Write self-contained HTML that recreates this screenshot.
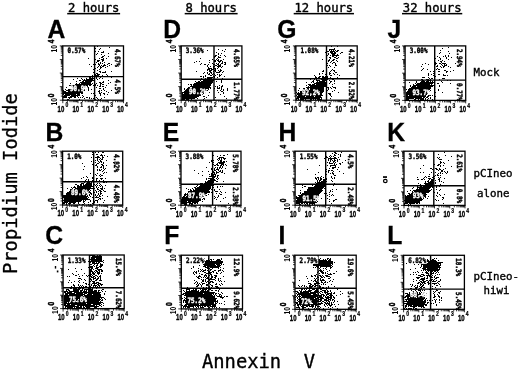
<!DOCTYPE html>
<html><head><meta charset="utf-8"><style>html,body{margin:0;padding:0;background:#fff;width:520px;height:371px;overflow:hidden;position:relative}</style></head>
<body>
<svg width="520" height="371" viewBox="0 0 520 371" style="position:absolute;left:0;top:0">
<rect width="520" height="371" fill="#fff"/>
<text x="68" y="11.5" font-family='"DejaVu Sans Mono", "Liberation Mono", monospace' font-size="12.2" fill="#000" stroke="#000" stroke-width="0.4">2 hours</text>
<rect x="67.2" y="12.9" width="52.910799999999995" height="1.5" fill="#000"/>
<text x="185.5" y="11.5" font-family='"DejaVu Sans Mono", "Liberation Mono", monospace' font-size="12.2" fill="#000" stroke="#000" stroke-width="0.4">8 hours</text>
<rect x="184.7" y="12.9" width="52.910799999999995" height="1.5" fill="#000"/>
<text x="294.5" y="11.5" font-family='"DejaVu Sans Mono", "Liberation Mono", monospace' font-size="12.2" fill="#000" stroke="#000" stroke-width="0.4">12 hours</text>
<rect x="293.7" y="12.9" width="60.255199999999995" height="1.5" fill="#000"/>
<text x="402.8" y="11.5" font-family='"DejaVu Sans Mono", "Liberation Mono", monospace' font-size="12.2" fill="#000" stroke="#000" stroke-width="0.4">32 hours</text>
<rect x="402.0" y="12.9" width="60.255199999999995" height="1.5" fill="#000"/>
<text transform="translate(47.38,37.8) scale(0.95,1)" font-family='"Liberation Sans", Arial, sans-serif' font-weight="bold" font-size="26.0" fill="#000" stroke="#000" stroke-width="0.3">A</text>
<text transform="translate(163.15,37.8) scale(0.95,1)" font-family='"Liberation Sans", Arial, sans-serif' font-weight="bold" font-size="26.0" fill="#000" stroke="#000" stroke-width="0.3">D</text>
<text transform="translate(277.29,37.8) scale(0.95,1)" font-family='"Liberation Sans", Arial, sans-serif' font-weight="bold" font-size="26.0" fill="#000" stroke="#000" stroke-width="0.3">G</text>
<text transform="translate(387.43,37.9) scale(0.95,1)" font-family='"Liberation Sans", Arial, sans-serif' font-weight="bold" font-size="26.0" fill="#000" stroke="#000" stroke-width="0.3">J</text>
<text transform="translate(45.55,141) scale(0.95,1)" font-family='"Liberation Sans", Arial, sans-serif' font-weight="bold" font-size="26.0" fill="#000" stroke="#000" stroke-width="0.3">B</text>
<text transform="translate(162.85,140.9) scale(0.95,1)" font-family='"Liberation Sans", Arial, sans-serif' font-weight="bold" font-size="26.0" fill="#000" stroke="#000" stroke-width="0.3">E</text>
<text transform="translate(278.55,140.9) scale(0.95,1)" font-family='"Liberation Sans", Arial, sans-serif' font-weight="bold" font-size="26.0" fill="#000" stroke="#000" stroke-width="0.3">H</text>
<text transform="translate(387.35,141) scale(0.95,1)" font-family='"Liberation Sans", Arial, sans-serif' font-weight="bold" font-size="26.0" fill="#000" stroke="#000" stroke-width="0.3">K</text>
<text transform="translate(45.19,243.9) scale(0.95,1)" font-family='"Liberation Sans", Arial, sans-serif' font-weight="bold" font-size="26.0" fill="#000" stroke="#000" stroke-width="0.3">C</text>
<text transform="translate(164.35,244.2) scale(0.95,1)" font-family='"Liberation Sans", Arial, sans-serif' font-weight="bold" font-size="26.0" fill="#000" stroke="#000" stroke-width="0.3">F</text>
<text transform="translate(278.55,244.2) scale(0.95,1)" font-family='"Liberation Sans", Arial, sans-serif' font-weight="bold" font-size="26.0" fill="#000" stroke="#000" stroke-width="0.3">I</text>
<text transform="translate(387.35,244) scale(0.95,1)" font-family='"Liberation Sans", Arial, sans-serif' font-weight="bold" font-size="26.0" fill="#000" stroke="#000" stroke-width="0.3">L</text>
<text x="473.5" y="75.5" font-family='"DejaVu Sans Mono", "Liberation Mono", monospace' font-size="10.8" fill="#000" stroke="#000" stroke-width="0.35">Mock</text>
<text x="473.5" y="176.8" font-family='"DejaVu Sans Mono", "Liberation Mono", monospace' font-size="10.8" fill="#000" stroke="#000" stroke-width="0.35">pCIneo</text>
<text x="477" y="196.9" font-family='"DejaVu Sans Mono", "Liberation Mono", monospace' font-size="10.8" fill="#000" stroke="#000" stroke-width="0.35">alone</text>
<text x="473.5" y="280" font-family='"DejaVu Sans Mono", "Liberation Mono", monospace' font-size="10.8" fill="#000" stroke="#000" stroke-width="0.35">pCIneo-</text>
<text x="483.5" y="293.5" font-family='"DejaVu Sans Mono", "Liberation Mono", monospace' font-size="10.8" fill="#000" stroke="#000" stroke-width="0.35">hiwi</text>
<text transform="translate(16.8,274) rotate(-90)" font-family='"DejaVu Sans Mono", "Liberation Mono", monospace' font-size="18.8" fill="#000" stroke="#000" stroke-width="0.3">Propidium Iodide</text>
<text x="202" y="368" font-family='"DejaVu Sans Mono", "Liberation Mono", monospace' font-size="18.8" fill="#000" stroke="#000" stroke-width="0.35" xml:space="preserve" style="white-space:pre">Annexin  V</text>
<path d="M97 46h1v1h-1zM109 47h1v1h-1zM95 48h1v1h-1zM100 48h1v1h-1zM99 49h1v1h-1zM95 51h1v1h-1zM98 51h1v1h-1zM103 51h1v1h-1zM101 52h3v1h-3zM97 53h1v1h-1zM108 53h1v1h-1zM96 54h1v1h-1zM101 54h1v1h-1zM104 55h1v1h-1zM102 56h2v1h-2zM108 56h1v1h-1zM94 57h1v1h-1zM101 57h2v1h-2zM88 58h1v1h-1zM99 58h1v1h-1zM103 58h1v1h-1zM106 58h1v1h-1zM94 59h2v1h-2zM101 59h3v1h-3zM97 60h3v1h-3zM102 60h2v1h-2zM97 61h2v1h-2zM102 61h1v1h-1zM94 62h1v1h-1zM96 62h1v1h-1zM100 62h1v1h-1zM104 62h1v1h-1zM98 63h1v1h-1zM100 63h1v1h-1zM102 63h1v1h-1zM108 63h2v1h-2zM89 64h1v1h-1zM93 64h1v1h-1zM95 64h1v1h-1zM98 64h2v1h-2zM104 64h1v1h-1zM107 64h1v1h-1zM111 64h1v1h-1zM99 65h1v1h-1zM101 65h1v1h-1zM103 65h3v1h-3zM109 65h1v1h-1zM91 66h1v1h-1zM98 66h1v1h-1zM100 66h1v1h-1zM102 66h2v1h-2zM107 66h1v1h-1zM97 67h1v1h-1zM100 67h2v1h-2zM105 67h1v1h-1zM95 68h1v1h-1zM100 68h1v1h-1zM93 69h1v1h-1zM99 69h1v1h-1zM97 70h1v1h-1zM94 71h1v1h-1zM99 71h2v1h-2zM105 71h1v1h-1zM111 71h1v1h-1zM93 72h2v1h-2zM100 72h1v1h-1zM102 72h4v1h-4zM96 73h2v1h-2zM95 74h1v1h-1zM97 74h3v1h-3zM106 74h1v1h-1zM92 75h1v1h-1zM95 75h4v1h-4zM102 75h1v1h-1zM107 75h1v1h-1zM86 76h1v1h-1zM89 76h1v1h-1zM91 76h1v1h-1zM93 76h2v1h-2zM96 76h2v1h-2zM101 76h1v1h-1zM103 76h1v1h-1zM89 77h2v1h-2zM92 77h1v1h-1zM94 77h1v1h-1zM96 77h1v1h-1zM100 77h1v1h-1zM111 77h1v1h-1zM77 78h1v1h-1zM81 78h1v1h-1zM86 78h1v1h-1zM89 78h6v1h-6zM96 78h1v1h-1zM99 78h1v1h-1zM102 78h1v1h-1zM73 79h1v1h-1zM82 79h1v1h-1zM84 79h1v1h-1zM86 79h7v1h-7zM94 79h1v1h-1zM97 79h1v1h-1zM79 80h2v1h-2zM83 80h11v1h-11zM108 80h1v1h-1zM76 81h1v1h-1zM82 81h2v1h-2zM85 81h7v1h-7zM103 81h1v1h-1zM80 82h11v1h-11zM99 82h2v1h-2zM102 82h2v1h-2zM110 82h1v1h-1zM70 83h1v1h-1zM76 83h1v1h-1zM79 83h1v1h-1zM81 83h10v1h-10zM92 83h1v1h-1zM96 83h1v1h-1zM100 83h2v1h-2zM108 83h1v1h-1zM75 84h17v1h-17zM95 84h1v1h-1zM100 84h1v1h-1zM102 84h2v1h-2zM69 85h19v1h-19zM89 85h2v1h-2zM93 85h1v1h-1zM95 85h1v1h-1zM97 85h1v1h-1zM100 85h1v1h-1zM106 85h1v1h-1zM71 86h15v1h-15zM87 86h1v1h-1zM99 86h2v1h-2zM102 86h2v1h-2zM66 87h1v1h-1zM72 87h14v1h-14zM87 87h2v1h-2zM96 87h1v1h-1zM105 87h1v1h-1zM72 88h12v1h-12zM88 88h1v1h-1zM99 88h2v1h-2zM103 88h1v1h-1zM65 89h1v1h-1zM68 89h15v1h-15zM84 89h1v1h-1zM86 89h1v1h-1zM88 89h1v1h-1zM91 89h1v1h-1zM103 89h1v1h-1zM63 90h1v1h-1zM66 90h19v1h-19zM88 90h1v1h-1zM99 90h1v1h-1zM101 90h1v1h-1zM104 90h1v1h-1zM111 90h1v1h-1zM63 91h3v1h-3zM68 91h15v1h-15zM98 91h2v1h-2zM106 91h1v1h-1zM63 92h20v1h-20zM99 92h1v1h-1zM101 92h1v1h-1zM108 92h1v1h-1zM63 93h17v1h-17zM81 93h2v1h-2zM91 93h1v1h-1zM93 93h1v1h-1zM99 93h2v1h-2zM103 93h2v1h-2zM63 94h1v1h-1zM65 94h11v1h-11zM77 94h3v1h-3zM100 94h1v1h-1zM104 94h1v1h-1zM107 94h1v1h-1zM64 95h6v1h-6zM71 95h9v1h-9zM82 95h1v1h-1zM94 95h2v1h-2zM100 95h1v1h-1zM63 96h4v1h-4zM70 96h6v1h-6zM77 96h1v1h-1zM83 96h1v1h-1zM63 97h4v1h-4zM68 97h4v1h-4zM74 97h2v1h-2zM78 97h1v1h-1zM80 97h1v1h-1zM82 97h1v1h-1zM86 97h2v1h-2zM89 97h1v1h-1zM96 97h1v1h-1zM104 97h1v1h-1zM69 98h1v1h-1zM84 98h1v1h-1zM89 98h1v1h-1zM91 98h1v1h-1zM93 98h2v1h-2zM97 98h1v1h-1zM101 98h1v1h-1zM67 99h2v1h-2zM79 99h1v1h-1zM95 99h1v1h-1zM98 99h1v1h-1zM100 99h1v1h-1z" fill="#000"/>
<rect x="62.8" y="45.9" width="60.7" height="54.300000000000004" fill="none" stroke="#000" stroke-width="1.3"/>
<line x1="94.6" y1="45.9" x2="94.6" y2="100.2" stroke="#000" stroke-width="1.4"/>
<line x1="62.8" y1="76.6" x2="123.5" y2="76.6" stroke="#000" stroke-width="1.4"/>
<path d="M59.80 100.20H62.8 M62.80 100.2V103.20 M60.80 96.11H62.8 M67.37 100.2V102.20 M60.80 93.72H62.8 M70.04 100.2V102.20 M60.80 92.03H62.8 M71.94 100.2V102.20 M60.80 90.71H62.8 M73.41 100.2V102.20 M60.80 89.64H62.8 M74.61 100.2V102.20 M60.80 88.73H62.8 M75.62 100.2V102.20 M60.80 87.94H62.8 M76.50 100.2V102.20 M60.80 87.25H62.8 M77.28 100.2V102.20 M59.80 86.62H62.8 M77.97 100.2V103.20 M60.80 82.54H62.8 M82.54 100.2V102.20 M60.80 80.15H62.8 M85.22 100.2V102.20 M60.80 78.45H62.8 M87.11 100.2V102.20 M60.80 77.14H62.8 M88.58 100.2V102.20 M60.80 76.06H62.8 M89.78 100.2V102.20 M60.80 75.15H62.8 M90.80 100.2V102.20 M60.80 74.37H62.8 M91.68 100.2V102.20 M60.80 73.67H62.8 M92.46 100.2V102.20 M59.80 73.05H62.8 M93.15 100.2V103.20 M60.80 68.96H62.8 M97.72 100.2V102.20 M60.80 66.57H62.8 M100.39 100.2V102.20 M60.80 64.88H62.8 M102.29 100.2V102.20 M60.80 63.56H62.8 M103.76 100.2V102.20 M60.80 62.49H62.8 M104.96 100.2V102.20 M60.80 61.58H62.8 M105.97 100.2V102.20 M60.80 60.79H62.8 M106.85 100.2V102.20 M60.80 60.10H62.8 M107.63 100.2V102.20 M59.80 59.48H62.8 M108.33 100.2V103.20 M60.80 55.39H62.8 M112.89 100.2V102.20 M60.80 53.00H62.8 M115.57 100.2V102.20 M60.80 51.30H62.8 M117.46 100.2V102.20 M60.80 49.99H62.8 M118.93 100.2V102.20 M60.80 48.91H62.8 M120.13 100.2V102.20 M60.80 48.00H62.8 M121.15 100.2V102.20 M60.80 47.22H62.8 M122.03 100.2V102.20 M60.80 46.52H62.8 M122.81 100.2V102.20 M59.80 45.9H62.8 M123.5 100.2V103.2" stroke="#000" stroke-width="0.8" fill="none"/>
<g transform="translate(57.60,111.60000000000001) scale(0.7,1)"><text x="0" y="0" font-family='"Liberation Sans", Arial, sans-serif' font-weight='bold' font-size="8.6" fill="#000" stroke="#000" stroke-width="0.35">10</text><text x="11.2" y="-4.3" font-family='"Liberation Sans", Arial, sans-serif' font-weight='bold' font-size="7.2" fill="#000" stroke="#000" stroke-width="0.25">0</text></g>
<g transform="translate(72.50,111.60000000000001) scale(0.7,1)"><text x="0" y="0" font-family='"Liberation Sans", Arial, sans-serif' font-weight='bold' font-size="8.6" fill="#000" stroke="#000" stroke-width="0.35">10</text><text x="11.2" y="-4.3" font-family='"Liberation Sans", Arial, sans-serif' font-weight='bold' font-size="7.2" fill="#000" stroke="#000" stroke-width="0.25">1</text></g>
<g transform="translate(87.40,111.60000000000001) scale(0.7,1)"><text x="0" y="0" font-family='"Liberation Sans", Arial, sans-serif' font-weight='bold' font-size="8.6" fill="#000" stroke="#000" stroke-width="0.35">10</text><text x="11.2" y="-4.3" font-family='"Liberation Sans", Arial, sans-serif' font-weight='bold' font-size="7.2" fill="#000" stroke="#000" stroke-width="0.25">2</text></g>
<g transform="translate(102.30,111.60000000000001) scale(0.7,1)"><text x="0" y="0" font-family='"Liberation Sans", Arial, sans-serif' font-weight='bold' font-size="8.6" fill="#000" stroke="#000" stroke-width="0.35">10</text><text x="11.2" y="-4.3" font-family='"Liberation Sans", Arial, sans-serif' font-weight='bold' font-size="7.2" fill="#000" stroke="#000" stroke-width="0.25">3</text></g>
<g transform="translate(117.20,111.60000000000001) scale(0.7,1)"><text x="0" y="0" font-family='"Liberation Sans", Arial, sans-serif' font-weight='bold' font-size="8.6" fill="#000" stroke="#000" stroke-width="0.35">10</text><text x="11.2" y="-4.3" font-family='"Liberation Sans", Arial, sans-serif' font-weight='bold' font-size="7.2" fill="#000" stroke="#000" stroke-width="0.25">4</text></g>
<g transform="translate(57.3,105.5) rotate(-90) scale(0.8,1)"><text x="0" y="0" font-family='"Liberation Sans", Arial, sans-serif' font-weight='bold' font-size="8.5" fill="#000">10</text><text x="10.4" y="-3.4" font-family='"Liberation Sans", Arial, sans-serif' font-weight='bold' font-size="8.2" fill="#000" stroke="#000" stroke-width="0.5">0</text></g>
<g transform="translate(57.3,52.5) rotate(-90) scale(0.8,1)"><text x="0" y="0" font-family='"Liberation Sans", Arial, sans-serif' font-weight='bold' font-size="8.5" fill="#000">10</text><text x="11.6" y="-3.4" font-family='"Liberation Sans", Arial, sans-serif' font-weight='bold' font-size="8.2" fill="#000" stroke="#000" stroke-width="0.5">4</text></g>
<rect x="66.60" y="47.10" width="19.42" height="7.4" fill="#fff"/>
<text transform="translate(67.39999999999999,53.4) scale(0.8,1)" font-family='"DejaVu Sans Mono", "Liberation Mono", monospace' font-weight='bold' font-size='7.4' stroke-width='0.45' fill="#000" stroke="#000">0.57%</text>
<text transform="translate(115.2,48.9) rotate(90) scale(0.8,1)" font-family='"DejaVu Sans Mono", "Liberation Mono", monospace' font-weight='bold' font-size='7.4' stroke-width='0.45' fill="#000" stroke="#000">4.67%</text>
<text transform="translate(115.2,79.6) rotate(90) scale(0.8,1)" font-family='"DejaVu Sans Mono", "Liberation Mono", monospace' font-weight='bold' font-size='7.4' stroke-width='0.45' fill="#000" stroke="#000">4.5%</text>
<text transform="translate(70,90.8) scale(0.8,1)" font-family='"DejaVu Sans Mono", "Liberation Mono", monospace' font-weight='bold' font-size='7.4' stroke-width='0.45' fill="#fff" stroke="#fff">90.9%</text>
<path d="M218 49h1v1h-1zM225 49h1v1h-1zM207 50h1v1h-1zM222 50h1v1h-1zM224 51h1v1h-1zM216 52h1v1h-1zM218 53h1v1h-1zM221 53h1v1h-1zM218 54h1v1h-1zM215 55h2v1h-2zM220 55h1v1h-1zM224 55h1v1h-1zM214 56h2v1h-2zM218 56h1v1h-1zM225 56h1v1h-1zM214 57h1v1h-1zM218 57h3v1h-3zM200 58h1v1h-1zM217 58h1v1h-1zM212 59h1v1h-1zM216 59h1v1h-1zM218 59h1v1h-1zM223 59h1v1h-1zM209 60h1v1h-1zM214 60h2v1h-2zM217 60h2v1h-2zM220 60h2v1h-2zM196 61h1v1h-1zM199 61h1v1h-1zM214 61h2v1h-2zM218 61h3v1h-3zM222 61h1v1h-1zM194 62h1v1h-1zM209 62h1v1h-1zM219 62h1v1h-1zM222 62h1v1h-1zM224 62h2v1h-2zM201 63h1v1h-1zM212 63h1v1h-1zM216 63h1v1h-1zM218 63h1v1h-1zM221 63h2v1h-2zM225 63h1v1h-1zM200 64h1v1h-1zM204 64h2v1h-2zM208 64h1v1h-1zM213 64h2v1h-2zM217 64h2v1h-2zM220 64h1v1h-1zM224 64h2v1h-2zM207 65h1v1h-1zM215 65h2v1h-2zM218 65h3v1h-3zM207 66h1v1h-1zM210 66h1v1h-1zM213 66h2v1h-2zM217 66h4v1h-4zM222 66h1v1h-1zM208 67h1v1h-1zM213 67h1v1h-1zM218 67h1v1h-1zM221 67h1v1h-1zM208 68h4v1h-4zM213 68h3v1h-3zM217 68h1v1h-1zM207 69h3v1h-3zM211 69h3v1h-3zM215 69h1v1h-1zM220 69h1v1h-1zM207 70h1v1h-1zM209 70h3v1h-3zM214 70h2v1h-2zM218 70h1v1h-1zM220 70h2v1h-2zM196 71h1v1h-1zM209 71h2v1h-2zM213 71h1v1h-1zM215 71h1v1h-1zM219 71h2v1h-2zM223 71h1v1h-1zM204 72h1v1h-1zM207 72h1v1h-1zM210 72h2v1h-2zM216 72h4v1h-4zM222 72h1v1h-1zM203 73h1v1h-1zM207 73h1v1h-1zM209 73h1v1h-1zM211 73h1v1h-1zM213 73h1v1h-1zM208 74h2v1h-2zM212 74h1v1h-1zM214 74h1v1h-1zM217 74h1v1h-1zM219 74h1v1h-1zM221 74h1v1h-1zM205 75h1v1h-1zM210 75h2v1h-2zM215 75h1v1h-1zM219 75h2v1h-2zM200 76h2v1h-2zM203 76h1v1h-1zM205 76h1v1h-1zM213 76h2v1h-2zM219 76h1v1h-1zM224 76h1v1h-1zM203 77h1v1h-1zM207 77h6v1h-6zM214 77h1v1h-1zM217 77h1v1h-1zM201 78h1v1h-1zM205 78h1v1h-1zM207 78h5v1h-5zM222 78h1v1h-1zM200 79h2v1h-2zM205 79h1v1h-1zM207 79h7v1h-7zM200 80h1v1h-1zM203 80h11v1h-11zM221 80h1v1h-1zM195 81h1v1h-1zM198 81h2v1h-2zM201 81h12v1h-12zM216 81h1v1h-1zM221 81h1v1h-1zM196 82h17v1h-17zM221 82h1v1h-1zM194 83h18v1h-18zM188 84h1v1h-1zM190 84h2v1h-2zM193 84h18v1h-18zM191 85h1v1h-1zM193 85h18v1h-18zM219 85h1v1h-1zM222 85h1v1h-1zM190 86h20v1h-20zM215 86h1v1h-1zM217 86h1v1h-1zM221 86h2v1h-2zM188 87h2v1h-2zM192 87h19v1h-19zM217 87h1v1h-1zM219 87h1v1h-1zM221 87h1v1h-1zM184 88h1v1h-1zM187 88h22v1h-22zM210 88h1v1h-1zM214 88h1v1h-1zM217 88h3v1h-3zM221 88h1v1h-1zM227 88h1v1h-1zM184 89h1v1h-1zM186 89h20v1h-20zM208 89h1v1h-1zM221 89h1v1h-1zM223 89h1v1h-1zM227 89h1v1h-1zM185 90h23v1h-23zM217 90h1v1h-1zM220 90h1v1h-1zM223 90h1v1h-1zM227 90h1v1h-1zM184 91h21v1h-21zM221 91h2v1h-2zM182 92h22v1h-22zM205 92h1v1h-1zM209 92h1v1h-1zM218 92h1v1h-1zM223 92h1v1h-1zM182 93h1v1h-1zM184 93h18v1h-18zM203 93h1v1h-1zM205 93h1v1h-1zM223 93h1v1h-1zM182 94h19v1h-19zM202 94h1v1h-1zM220 94h1v1h-1zM182 95h19v1h-19zM208 95h1v1h-1zM182 96h17v1h-17zM203 96h2v1h-2zM224 96h1v1h-1zM182 97h15v1h-15zM206 97h1v1h-1zM215 97h1v1h-1zM182 98h13v1h-13zM197 98h1v1h-1zM204 98h1v1h-1zM226 98h1v1h-1zM182 99h3v1h-3zM186 99h3v1h-3zM191 99h1v1h-1zM203 99h1v1h-1z" fill="#000"/>
<rect x="181.2" y="45.9" width="60.70000000000002" height="54.300000000000004" fill="none" stroke="#000" stroke-width="1.3"/>
<line x1="214" y1="45.9" x2="214" y2="100.2" stroke="#000" stroke-width="1.4"/>
<line x1="181.2" y1="79.3" x2="241.9" y2="79.3" stroke="#000" stroke-width="1.4"/>
<path d="M178.20 100.20H181.2 M181.20 100.2V103.20 M179.20 96.11H181.2 M185.77 100.2V102.20 M179.20 93.72H181.2 M188.44 100.2V102.20 M179.20 92.03H181.2 M190.34 100.2V102.20 M179.20 90.71H181.2 M191.81 100.2V102.20 M179.20 89.64H181.2 M193.01 100.2V102.20 M179.20 88.73H181.2 M194.02 100.2V102.20 M179.20 87.94H181.2 M194.90 100.2V102.20 M179.20 87.25H181.2 M195.68 100.2V102.20 M178.20 86.62H181.2 M196.38 100.2V103.20 M179.20 82.54H181.2 M200.94 100.2V102.20 M179.20 80.15H181.2 M203.62 100.2V102.20 M179.20 78.45H181.2 M205.51 100.2V102.20 M179.20 77.14H181.2 M206.98 100.2V102.20 M179.20 76.06H181.2 M208.18 100.2V102.20 M179.20 75.15H181.2 M209.20 100.2V102.20 M179.20 74.37H181.2 M210.08 100.2V102.20 M179.20 73.67H181.2 M210.86 100.2V102.20 M178.20 73.05H181.2 M211.55 100.2V103.20 M179.20 68.96H181.2 M216.12 100.2V102.20 M179.20 66.57H181.2 M218.79 100.2V102.20 M179.20 64.88H181.2 M220.69 100.2V102.20 M179.20 63.56H181.2 M222.16 100.2V102.20 M179.20 62.49H181.2 M223.36 100.2V102.20 M179.20 61.58H181.2 M224.37 100.2V102.20 M179.20 60.79H181.2 M225.25 100.2V102.20 M179.20 60.10H181.2 M226.03 100.2V102.20 M178.20 59.48H181.2 M226.72 100.2V103.20 M179.20 55.39H181.2 M231.29 100.2V102.20 M179.20 53.00H181.2 M233.97 100.2V102.20 M179.20 51.30H181.2 M235.86 100.2V102.20 M179.20 49.99H181.2 M237.33 100.2V102.20 M179.20 48.91H181.2 M238.53 100.2V102.20 M179.20 48.00H181.2 M239.55 100.2V102.20 M179.20 47.22H181.2 M240.43 100.2V102.20 M179.20 46.52H181.2 M241.21 100.2V102.20 M178.20 45.9H181.2 M241.9 100.2V103.2" stroke="#000" stroke-width="0.8" fill="none"/>
<g transform="translate(176.00,111.60000000000001) scale(0.7,1)"><text x="0" y="0" font-family='"Liberation Sans", Arial, sans-serif' font-weight='bold' font-size="8.6" fill="#000" stroke="#000" stroke-width="0.35">10</text><text x="11.2" y="-4.3" font-family='"Liberation Sans", Arial, sans-serif' font-weight='bold' font-size="7.2" fill="#000" stroke="#000" stroke-width="0.25">0</text></g>
<g transform="translate(190.90,111.60000000000001) scale(0.7,1)"><text x="0" y="0" font-family='"Liberation Sans", Arial, sans-serif' font-weight='bold' font-size="8.6" fill="#000" stroke="#000" stroke-width="0.35">10</text><text x="11.2" y="-4.3" font-family='"Liberation Sans", Arial, sans-serif' font-weight='bold' font-size="7.2" fill="#000" stroke="#000" stroke-width="0.25">1</text></g>
<g transform="translate(205.80,111.60000000000001) scale(0.7,1)"><text x="0" y="0" font-family='"Liberation Sans", Arial, sans-serif' font-weight='bold' font-size="8.6" fill="#000" stroke="#000" stroke-width="0.35">10</text><text x="11.2" y="-4.3" font-family='"Liberation Sans", Arial, sans-serif' font-weight='bold' font-size="7.2" fill="#000" stroke="#000" stroke-width="0.25">2</text></g>
<g transform="translate(220.70,111.60000000000001) scale(0.7,1)"><text x="0" y="0" font-family='"Liberation Sans", Arial, sans-serif' font-weight='bold' font-size="8.6" fill="#000" stroke="#000" stroke-width="0.35">10</text><text x="11.2" y="-4.3" font-family='"Liberation Sans", Arial, sans-serif' font-weight='bold' font-size="7.2" fill="#000" stroke="#000" stroke-width="0.25">3</text></g>
<g transform="translate(235.60,111.60000000000001) scale(0.7,1)"><text x="0" y="0" font-family='"Liberation Sans", Arial, sans-serif' font-weight='bold' font-size="8.6" fill="#000" stroke="#000" stroke-width="0.35">10</text><text x="11.2" y="-4.3" font-family='"Liberation Sans", Arial, sans-serif' font-weight='bold' font-size="7.2" fill="#000" stroke="#000" stroke-width="0.25">4</text></g>
<g transform="translate(175.7,105.5) rotate(-90) scale(0.8,1)"><text x="0" y="0" font-family='"Liberation Sans", Arial, sans-serif' font-weight='bold' font-size="8.5" fill="#000">10</text><text x="10.4" y="-3.4" font-family='"Liberation Sans", Arial, sans-serif' font-weight='bold' font-size="8.2" fill="#000" stroke="#000" stroke-width="0.5">0</text></g>
<g transform="translate(175.7,52.5) rotate(-90) scale(0.8,1)"><text x="0" y="0" font-family='"Liberation Sans", Arial, sans-serif' font-weight='bold' font-size="8.5" fill="#000">10</text><text x="11.6" y="-3.4" font-family='"Liberation Sans", Arial, sans-serif' font-weight='bold' font-size="8.2" fill="#000" stroke="#000" stroke-width="0.5">4</text></g>
<rect x="185.00" y="47.10" width="19.42" height="7.4" fill="#fff"/>
<text transform="translate(185.79999999999998,53.4) scale(0.8,1)" font-family='"DejaVu Sans Mono", "Liberation Mono", monospace' font-weight='bold' font-size='7.4' stroke-width='0.45' fill="#000" stroke="#000">3.36%</text>
<text transform="translate(233.6,48.9) rotate(90) scale(0.8,1)" font-family='"DejaVu Sans Mono", "Liberation Mono", monospace' font-weight='bold' font-size='7.4' stroke-width='0.45' fill="#000" stroke="#000">4.65%</text>
<text transform="translate(233.6,82.3) rotate(90) scale(0.8,1)" font-family='"DejaVu Sans Mono", "Liberation Mono", monospace' font-weight='bold' font-size='7.4' stroke-width='0.45' fill="#000" stroke="#000">1.77%</text>
<text transform="translate(189,94.2) scale(0.8,1)" font-family='"DejaVu Sans Mono", "Liberation Mono", monospace' font-weight='bold' font-size='7.4' stroke-width='0.45' fill="#fff" stroke="#fff">90.2%</text>
<path d="M331 46h1v1h-1zM337 46h1v1h-1zM334 48h1v1h-1zM329 49h6v1h-6zM329 50h1v1h-1zM331 50h1v1h-1zM333 50h1v1h-1zM335 50h1v1h-1zM337 50h2v1h-2zM327 51h2v1h-2zM330 51h5v1h-5zM336 51h2v1h-2zM325 52h1v1h-1zM330 52h3v1h-3zM334 52h2v1h-2zM341 52h2v1h-2zM328 53h1v1h-1zM331 53h5v1h-5zM340 53h1v1h-1zM328 54h1v1h-1zM332 54h3v1h-3zM337 54h1v1h-1zM327 55h1v1h-1zM330 55h1v1h-1zM332 55h7v1h-7zM332 56h2v1h-2zM336 56h1v1h-1zM329 57h2v1h-2zM334 57h2v1h-2zM338 57h1v1h-1zM330 58h1v1h-1zM336 58h2v1h-2zM322 59h1v1h-1zM329 59h1v1h-1zM333 59h2v1h-2zM328 60h2v1h-2zM332 60h2v1h-2zM336 60h1v1h-1zM328 61h1v1h-1zM331 61h1v1h-1zM337 61h1v1h-1zM330 62h1v1h-1zM333 62h2v1h-2zM327 63h1v1h-1zM332 63h1v1h-1zM335 63h1v1h-1zM335 64h1v1h-1zM327 65h1v1h-1zM329 65h1v1h-1zM335 65h2v1h-2zM330 66h1v1h-1zM328 67h1v1h-1zM334 67h1v1h-1zM332 69h1v1h-1zM323 70h1v1h-1zM331 70h1v1h-1zM333 70h2v1h-2zM322 71h2v1h-2zM330 71h1v1h-1zM334 71h1v1h-1zM329 72h1v1h-1zM335 72h2v1h-2zM319 73h1v1h-1zM322 73h1v1h-1zM329 73h2v1h-2zM333 73h1v1h-1zM319 74h1v1h-1zM325 74h1v1h-1zM329 74h1v1h-1zM334 74h1v1h-1zM337 74h1v1h-1zM314 75h1v1h-1zM330 75h2v1h-2zM339 75h1v1h-1zM315 76h1v1h-1zM319 76h2v1h-2zM322 76h2v1h-2zM325 76h1v1h-1zM327 76h1v1h-1zM315 77h2v1h-2zM318 77h2v1h-2zM322 77h6v1h-6zM330 77h1v1h-1zM337 77h1v1h-1zM305 78h1v1h-1zM320 78h4v1h-4zM325 78h1v1h-1zM331 78h1v1h-1zM310 79h1v1h-1zM314 79h1v1h-1zM316 79h1v1h-1zM321 79h7v1h-7zM332 79h2v1h-2zM313 80h1v1h-1zM316 80h4v1h-4zM322 80h4v1h-4zM329 80h1v1h-1zM334 80h1v1h-1zM312 81h2v1h-2zM317 81h1v1h-1zM319 81h6v1h-6zM326 81h1v1h-1zM330 81h2v1h-2zM334 81h1v1h-1zM306 82h1v1h-1zM311 82h1v1h-1zM313 82h1v1h-1zM316 82h11v1h-11zM330 82h1v1h-1zM314 83h13v1h-13zM329 83h1v1h-1zM334 83h1v1h-1zM308 84h3v1h-3zM312 84h3v1h-3zM316 84h11v1h-11zM332 84h1v1h-1zM306 85h1v1h-1zM309 85h18v1h-18zM308 86h1v1h-1zM310 86h16v1h-16zM332 86h1v1h-1zM306 87h18v1h-18zM326 87h3v1h-3zM330 87h1v1h-1zM333 87h3v1h-3zM299 88h1v1h-1zM303 88h2v1h-2zM307 88h2v1h-2zM310 88h14v1h-14zM328 88h1v1h-1zM331 88h1v1h-1zM335 88h1v1h-1zM303 89h2v1h-2zM306 89h3v1h-3zM310 89h14v1h-14zM328 89h1v1h-1zM298 90h1v1h-1zM302 90h22v1h-22zM327 90h1v1h-1zM334 90h1v1h-1zM300 91h24v1h-24zM332 91h1v1h-1zM296 92h1v1h-1zM298 92h1v1h-1zM300 92h23v1h-23zM338 92h1v1h-1zM297 93h25v1h-25zM328 93h3v1h-3zM297 94h25v1h-25zM329 94h2v1h-2zM296 95h1v1h-1zM298 95h12v1h-12zM311 95h12v1h-12zM330 95h1v1h-1zM297 96h8v1h-8zM306 96h8v1h-8zM315 96h6v1h-6zM331 96h1v1h-1zM297 97h25v1h-25zM296 98h3v1h-3zM300 98h20v1h-20zM321 98h1v1h-1zM330 98h1v1h-1zM296 99h1v1h-1zM298 99h1v1h-1zM300 99h4v1h-4zM305 99h1v1h-1zM310 99h2v1h-2zM313 99h1v1h-1zM315 99h1v1h-1zM317 99h5v1h-5z" fill="#000"/>
<rect x="295.9" y="45.9" width="61.30000000000001" height="54.300000000000004" fill="none" stroke="#000" stroke-width="1.3"/>
<line x1="326.5" y1="45.9" x2="326.5" y2="100.2" stroke="#000" stroke-width="1.4"/>
<line x1="295.9" y1="78.8" x2="357.2" y2="78.8" stroke="#000" stroke-width="1.4"/>
<path d="M292.90 100.20H295.9 M295.90 100.2V103.20 M293.90 96.11H295.9 M300.51 100.2V102.20 M293.90 93.72H295.9 M303.21 100.2V102.20 M293.90 92.03H295.9 M305.13 100.2V102.20 M293.90 90.71H295.9 M306.61 100.2V102.20 M293.90 89.64H295.9 M307.83 100.2V102.20 M293.90 88.73H295.9 M308.85 100.2V102.20 M293.90 87.94H295.9 M309.74 100.2V102.20 M293.90 87.25H295.9 M310.52 100.2V102.20 M292.90 86.62H295.9 M311.22 100.2V103.20 M293.90 82.54H295.9 M315.84 100.2V102.20 M293.90 80.15H295.9 M318.54 100.2V102.20 M293.90 78.45H295.9 M320.45 100.2V102.20 M293.90 77.14H295.9 M321.94 100.2V102.20 M293.90 76.06H295.9 M323.15 100.2V102.20 M293.90 75.15H295.9 M324.18 100.2V102.20 M293.90 74.37H295.9 M325.06 100.2V102.20 M293.90 73.67H295.9 M325.85 100.2V102.20 M292.90 73.05H295.9 M326.55 100.2V103.20 M293.90 68.96H295.9 M331.16 100.2V102.20 M293.90 66.57H295.9 M333.86 100.2V102.20 M293.90 64.88H295.9 M335.78 100.2V102.20 M293.90 63.56H295.9 M337.26 100.2V102.20 M293.90 62.49H295.9 M338.48 100.2V102.20 M293.90 61.58H295.9 M339.50 100.2V102.20 M293.90 60.79H295.9 M340.39 100.2V102.20 M293.90 60.10H295.9 M341.17 100.2V102.20 M292.90 59.48H295.9 M341.88 100.2V103.20 M293.90 55.39H295.9 M346.49 100.2V102.20 M293.90 53.00H295.9 M349.19 100.2V102.20 M293.90 51.30H295.9 M351.10 100.2V102.20 M293.90 49.99H295.9 M352.59 100.2V102.20 M293.90 48.91H295.9 M353.80 100.2V102.20 M293.90 48.00H295.9 M354.83 100.2V102.20 M293.90 47.22H295.9 M355.71 100.2V102.20 M293.90 46.52H295.9 M356.50 100.2V102.20 M292.90 45.9H295.9 M357.2 100.2V103.2" stroke="#000" stroke-width="0.8" fill="none"/>
<g transform="translate(290.70,111.60000000000001) scale(0.7,1)"><text x="0" y="0" font-family='"Liberation Sans", Arial, sans-serif' font-weight='bold' font-size="8.6" fill="#000" stroke="#000" stroke-width="0.35">10</text><text x="11.2" y="-4.3" font-family='"Liberation Sans", Arial, sans-serif' font-weight='bold' font-size="7.2" fill="#000" stroke="#000" stroke-width="0.25">0</text></g>
<g transform="translate(305.60,111.60000000000001) scale(0.7,1)"><text x="0" y="0" font-family='"Liberation Sans", Arial, sans-serif' font-weight='bold' font-size="8.6" fill="#000" stroke="#000" stroke-width="0.35">10</text><text x="11.2" y="-4.3" font-family='"Liberation Sans", Arial, sans-serif' font-weight='bold' font-size="7.2" fill="#000" stroke="#000" stroke-width="0.25">1</text></g>
<g transform="translate(320.50,111.60000000000001) scale(0.7,1)"><text x="0" y="0" font-family='"Liberation Sans", Arial, sans-serif' font-weight='bold' font-size="8.6" fill="#000" stroke="#000" stroke-width="0.35">10</text><text x="11.2" y="-4.3" font-family='"Liberation Sans", Arial, sans-serif' font-weight='bold' font-size="7.2" fill="#000" stroke="#000" stroke-width="0.25">2</text></g>
<g transform="translate(335.40,111.60000000000001) scale(0.7,1)"><text x="0" y="0" font-family='"Liberation Sans", Arial, sans-serif' font-weight='bold' font-size="8.6" fill="#000" stroke="#000" stroke-width="0.35">10</text><text x="11.2" y="-4.3" font-family='"Liberation Sans", Arial, sans-serif' font-weight='bold' font-size="7.2" fill="#000" stroke="#000" stroke-width="0.25">3</text></g>
<g transform="translate(350.30,111.60000000000001) scale(0.7,1)"><text x="0" y="0" font-family='"Liberation Sans", Arial, sans-serif' font-weight='bold' font-size="8.6" fill="#000" stroke="#000" stroke-width="0.35">10</text><text x="11.2" y="-4.3" font-family='"Liberation Sans", Arial, sans-serif' font-weight='bold' font-size="7.2" fill="#000" stroke="#000" stroke-width="0.25">4</text></g>
<g transform="translate(290.4,105.5) rotate(-90) scale(0.8,1)"><text x="0" y="0" font-family='"Liberation Sans", Arial, sans-serif' font-weight='bold' font-size="8.5" fill="#000">10</text><text x="10.4" y="-3.4" font-family='"Liberation Sans", Arial, sans-serif' font-weight='bold' font-size="8.2" fill="#000" stroke="#000" stroke-width="0.5">0</text></g>
<g transform="translate(290.4,52.5) rotate(-90) scale(0.8,1)"><text x="0" y="0" font-family='"Liberation Sans", Arial, sans-serif' font-weight='bold' font-size="8.5" fill="#000">10</text><text x="11.6" y="-3.4" font-family='"Liberation Sans", Arial, sans-serif' font-weight='bold' font-size="8.2" fill="#000" stroke="#000" stroke-width="0.5">4</text></g>
<rect x="299.70" y="47.10" width="19.42" height="7.4" fill="#fff"/>
<text transform="translate(300.5,53.4) scale(0.8,1)" font-family='"DejaVu Sans Mono", "Liberation Mono", monospace' font-weight='bold' font-size='7.4' stroke-width='0.45' fill="#000" stroke="#000">1.08%</text>
<text transform="translate(348.9,48.9) rotate(90) scale(0.8,1)" font-family='"DejaVu Sans Mono", "Liberation Mono", monospace' font-weight='bold' font-size='7.4' stroke-width='0.45' fill="#000" stroke="#000">4.21%</text>
<text transform="translate(348.9,81.8) rotate(90) scale(0.8,1)" font-family='"DejaVu Sans Mono", "Liberation Mono", monospace' font-weight='bold' font-size='7.4' stroke-width='0.45' fill="#000" stroke="#000">2.52%</text>
<text transform="translate(302,95) scale(0.8,1)" font-family='"DejaVu Sans Mono", "Liberation Mono", monospace' font-weight='bold' font-size='7.4' stroke-width='0.45' fill="#fff" stroke="#fff">92.2%</text>
<path d="M448 47h1v1h-1zM442 48h1v1h-1zM440 50h1v1h-1zM434 51h1v1h-1zM448 51h1v1h-1zM440 52h1v1h-1zM434 53h1v1h-1zM439 53h1v1h-1zM449 53h1v1h-1zM457 54h1v1h-1zM445 55h1v1h-1zM448 55h1v1h-1zM437 56h1v1h-1zM443 56h1v1h-1zM445 56h1v1h-1zM448 56h1v1h-1zM457 56h1v1h-1zM439 57h1v1h-1zM446 57h1v1h-1zM451 57h1v1h-1zM435 58h1v1h-1zM440 58h1v1h-1zM446 58h1v1h-1zM440 59h1v1h-1zM448 59h1v1h-1zM438 60h1v1h-1zM442 60h1v1h-1zM440 61h2v1h-2zM444 61h1v1h-1zM434 62h2v1h-2zM441 62h1v1h-1zM425 63h1v1h-1zM435 63h2v1h-2zM439 63h2v1h-2zM442 63h4v1h-4zM455 63h1v1h-1zM422 64h1v1h-1zM428 64h1v1h-1zM435 64h1v1h-1zM441 64h1v1h-1zM444 64h1v1h-1zM446 64h1v1h-1zM437 65h1v1h-1zM442 65h1v1h-1zM444 65h3v1h-3zM421 66h1v1h-1zM434 66h1v1h-1zM436 66h2v1h-2zM440 66h1v1h-1zM443 66h2v1h-2zM448 66h1v1h-1zM434 67h1v1h-1zM441 67h1v1h-1zM443 67h1v1h-1zM450 67h1v1h-1zM423 68h1v1h-1zM437 68h1v1h-1zM422 69h1v1h-1zM427 69h1v1h-1zM434 69h1v1h-1zM436 69h1v1h-1zM438 69h2v1h-2zM421 70h1v1h-1zM444 70h2v1h-2zM453 70h1v1h-1zM430 71h1v1h-1zM433 71h2v1h-2zM438 71h2v1h-2zM446 71h2v1h-2zM450 71h1v1h-1zM446 72h1v1h-1zM428 73h1v1h-1zM433 73h2v1h-2zM428 74h1v1h-1zM431 74h1v1h-1zM438 74h2v1h-2zM443 74h1v1h-1zM428 75h1v1h-1zM433 75h1v1h-1zM443 75h3v1h-3zM447 75h1v1h-1zM434 76h2v1h-2zM422 77h3v1h-3zM428 77h1v1h-1zM429 78h1v1h-1zM431 78h2v1h-2zM442 78h3v1h-3zM421 79h2v1h-2zM426 79h3v1h-3zM430 79h1v1h-1zM439 79h1v1h-1zM422 80h2v1h-2zM427 80h4v1h-4zM447 80h1v1h-1zM450 80h1v1h-1zM416 81h1v1h-1zM421 81h4v1h-4zM426 81h3v1h-3zM430 81h1v1h-1zM432 81h1v1h-1zM441 81h1v1h-1zM409 82h1v1h-1zM416 82h1v1h-1zM420 82h15v1h-15zM442 82h1v1h-1zM415 83h1v1h-1zM417 83h16v1h-16zM437 83h2v1h-2zM450 83h1v1h-1zM413 84h1v1h-1zM416 84h14v1h-14zM431 84h1v1h-1zM410 85h1v1h-1zM413 85h21v1h-21zM439 85h1v1h-1zM410 86h1v1h-1zM412 86h4v1h-4zM417 86h16v1h-16zM439 86h1v1h-1zM411 87h20v1h-20zM434 87h1v1h-1zM409 88h22v1h-22zM406 89h1v1h-1zM408 89h22v1h-22zM438 89h1v1h-1zM408 90h21v1h-21zM430 90h1v1h-1zM438 90h1v1h-1zM407 91h21v1h-21zM429 91h1v1h-1zM406 92h23v1h-23zM435 92h1v1h-1zM442 92h1v1h-1zM406 93h22v1h-22zM406 94h21v1h-21zM429 94h1v1h-1zM406 95h2v1h-2zM409 95h17v1h-17zM428 95h3v1h-3zM432 95h1v1h-1zM406 96h20v1h-20zM427 96h2v1h-2zM435 96h1v1h-1zM406 97h16v1h-16zM423 97h2v1h-2zM426 97h2v1h-2zM430 97h1v1h-1zM406 98h8v1h-8zM415 98h9v1h-9zM425 98h1v1h-1zM428 98h1v1h-1zM430 98h1v1h-1zM406 99h3v1h-3zM414 99h2v1h-2zM418 99h1v1h-1zM420 99h4v1h-4zM425 99h1v1h-1zM427 99h1v1h-1zM432 99h1v1h-1z" fill="#000"/>
<rect x="405.1" y="45.9" width="60.599999999999966" height="54.50000000000001" fill="none" stroke="#000" stroke-width="1.3"/>
<line x1="434.7" y1="45.9" x2="434.7" y2="100.4" stroke="#000" stroke-width="1.4"/>
<line x1="405.1" y1="80.1" x2="465.7" y2="80.1" stroke="#000" stroke-width="1.4"/>
<path d="M402.10 100.40H405.1 M405.10 100.4V103.40 M403.10 96.30H405.1 M409.66 100.4V102.40 M403.10 93.90H405.1 M412.33 100.4V102.40 M403.10 92.20H405.1 M414.22 100.4V102.40 M403.10 90.88H405.1 M415.69 100.4V102.40 M403.10 89.80H405.1 M416.89 100.4V102.40 M403.10 88.89H405.1 M417.90 100.4V102.40 M403.10 88.10H405.1 M418.78 100.4V102.40 M403.10 87.40H405.1 M419.56 100.4V102.40 M402.10 86.78H405.1 M420.25 100.4V103.40 M403.10 82.67H405.1 M424.81 100.4V102.40 M403.10 80.27H405.1 M427.48 100.4V102.40 M403.10 78.57H405.1 M429.37 100.4V102.40 M403.10 77.25H405.1 M430.84 100.4V102.40 M403.10 76.17H405.1 M432.04 100.4V102.40 M403.10 75.26H405.1 M433.05 100.4V102.40 M403.10 74.47H405.1 M433.93 100.4V102.40 M403.10 73.77H405.1 M434.71 100.4V102.40 M402.10 73.15H405.1 M435.40 100.4V103.40 M403.10 69.05H405.1 M439.96 100.4V102.40 M403.10 66.65H405.1 M442.63 100.4V102.40 M403.10 64.95H405.1 M444.52 100.4V102.40 M403.10 63.63H405.1 M445.99 100.4V102.40 M403.10 62.55H405.1 M447.19 100.4V102.40 M403.10 61.64H405.1 M448.20 100.4V102.40 M403.10 60.85H405.1 M449.08 100.4V102.40 M403.10 60.15H405.1 M449.86 100.4V102.40 M402.10 59.52H405.1 M450.55 100.4V103.40 M403.10 55.42H405.1 M455.11 100.4V102.40 M403.10 53.02H405.1 M457.78 100.4V102.40 M403.10 51.32H405.1 M459.67 100.4V102.40 M403.10 50.00H405.1 M461.14 100.4V102.40 M403.10 48.92H405.1 M462.34 100.4V102.40 M403.10 48.01H405.1 M463.35 100.4V102.40 M403.10 47.22H405.1 M464.23 100.4V102.40 M403.10 46.52H405.1 M465.01 100.4V102.40 M402.10 45.9H405.1 M465.7 100.4V103.4" stroke="#000" stroke-width="0.8" fill="none"/>
<g transform="translate(399.90,111.80000000000001) scale(0.7,1)"><text x="0" y="0" font-family='"Liberation Sans", Arial, sans-serif' font-weight='bold' font-size="8.6" fill="#000" stroke="#000" stroke-width="0.35">10</text><text x="11.2" y="-4.3" font-family='"Liberation Sans", Arial, sans-serif' font-weight='bold' font-size="7.2" fill="#000" stroke="#000" stroke-width="0.25">0</text></g>
<g transform="translate(414.80,111.80000000000001) scale(0.7,1)"><text x="0" y="0" font-family='"Liberation Sans", Arial, sans-serif' font-weight='bold' font-size="8.6" fill="#000" stroke="#000" stroke-width="0.35">10</text><text x="11.2" y="-4.3" font-family='"Liberation Sans", Arial, sans-serif' font-weight='bold' font-size="7.2" fill="#000" stroke="#000" stroke-width="0.25">1</text></g>
<g transform="translate(429.70,111.80000000000001) scale(0.7,1)"><text x="0" y="0" font-family='"Liberation Sans", Arial, sans-serif' font-weight='bold' font-size="8.6" fill="#000" stroke="#000" stroke-width="0.35">10</text><text x="11.2" y="-4.3" font-family='"Liberation Sans", Arial, sans-serif' font-weight='bold' font-size="7.2" fill="#000" stroke="#000" stroke-width="0.25">2</text></g>
<g transform="translate(444.60,111.80000000000001) scale(0.7,1)"><text x="0" y="0" font-family='"Liberation Sans", Arial, sans-serif' font-weight='bold' font-size="8.6" fill="#000" stroke="#000" stroke-width="0.35">10</text><text x="11.2" y="-4.3" font-family='"Liberation Sans", Arial, sans-serif' font-weight='bold' font-size="7.2" fill="#000" stroke="#000" stroke-width="0.25">3</text></g>
<g transform="translate(459.50,111.80000000000001) scale(0.7,1)"><text x="0" y="0" font-family='"Liberation Sans", Arial, sans-serif' font-weight='bold' font-size="8.6" fill="#000" stroke="#000" stroke-width="0.35">10</text><text x="11.2" y="-4.3" font-family='"Liberation Sans", Arial, sans-serif' font-weight='bold' font-size="7.2" fill="#000" stroke="#000" stroke-width="0.25">4</text></g>
<g transform="translate(399.6,105.7) rotate(-90) scale(0.8,1)"><text x="0" y="0" font-family='"Liberation Sans", Arial, sans-serif' font-weight='bold' font-size="8.5" fill="#000">10</text><text x="10.4" y="-3.4" font-family='"Liberation Sans", Arial, sans-serif' font-weight='bold' font-size="8.2" fill="#000" stroke="#000" stroke-width="0.5">0</text></g>
<g transform="translate(399.6,52.5) rotate(-90) scale(0.8,1)"><text x="0" y="0" font-family='"Liberation Sans", Arial, sans-serif' font-weight='bold' font-size="8.5" fill="#000">10</text><text x="11.6" y="-3.4" font-family='"Liberation Sans", Arial, sans-serif' font-weight='bold' font-size="8.2" fill="#000" stroke="#000" stroke-width="0.5">4</text></g>
<rect x="408.90" y="47.10" width="19.42" height="7.4" fill="#fff"/>
<text transform="translate(409.70000000000005,53.4) scale(0.8,1)" font-family='"DejaVu Sans Mono", "Liberation Mono", monospace' font-weight='bold' font-size='7.4' stroke-width='0.45' fill="#000" stroke="#000">3.00%</text>
<text transform="translate(457.4,48.9) rotate(90) scale(0.8,1)" font-family='"DejaVu Sans Mono", "Liberation Mono", monospace' font-weight='bold' font-size='7.4' stroke-width='0.45' fill="#000" stroke="#000">2.94%</text>
<text transform="translate(457.4,83.1) rotate(90) scale(0.8,1)" font-family='"DejaVu Sans Mono", "Liberation Mono", monospace' font-weight='bold' font-size='7.4' stroke-width='0.45' fill="#000" stroke="#000">0.77%</text>
<text transform="translate(412.5,95) scale(0.8,1)" font-family='"DejaVu Sans Mono", "Liberation Mono", monospace' font-weight='bold' font-size='7.4' stroke-width='0.45' fill="#fff" stroke="#fff">93.7%</text>
<path d="M92 152h1v1h-1zM95 152h1v1h-1zM98 152h1v1h-1zM102 152h2v1h-2zM92 154h1v1h-1zM96 154h2v1h-2zM101 154h1v1h-1zM100 155h3v1h-3zM104 155h1v1h-1zM97 156h2v1h-2zM102 156h1v1h-1zM107 156h1v1h-1zM91 157h1v1h-1zM95 157h5v1h-5zM102 157h2v1h-2zM97 158h1v1h-1zM100 158h1v1h-1zM102 158h1v1h-1zM97 159h1v1h-1zM99 159h1v1h-1zM101 159h2v1h-2zM95 160h1v1h-1zM97 160h1v1h-1zM100 160h1v1h-1zM106 160h1v1h-1zM91 161h1v1h-1zM98 161h1v1h-1zM100 161h2v1h-2zM95 162h1v1h-1zM99 162h1v1h-1zM101 162h1v1h-1zM103 162h1v1h-1zM113 162h1v1h-1zM82 163h1v1h-1zM97 163h2v1h-2zM103 163h1v1h-1zM92 164h1v1h-1zM96 164h1v1h-1zM101 164h2v1h-2zM95 165h2v1h-2zM102 165h2v1h-2zM106 165h1v1h-1zM84 166h1v1h-1zM97 166h1v1h-1zM101 166h1v1h-1zM103 166h1v1h-1zM97 167h1v1h-1zM100 167h2v1h-2zM103 167h1v1h-1zM103 168h1v1h-1zM105 168h1v1h-1zM83 169h1v1h-1zM97 169h1v1h-1zM99 169h1v1h-1zM101 169h1v1h-1zM104 169h1v1h-1zM97 170h1v1h-1zM99 170h2v1h-2zM103 170h1v1h-1zM102 171h1v1h-1zM104 172h1v1h-1zM106 172h1v1h-1zM90 173h1v1h-1zM97 173h1v1h-1zM103 173h1v1h-1zM95 174h1v1h-1zM100 174h1v1h-1zM93 175h1v1h-1zM96 175h1v1h-1zM99 175h1v1h-1zM101 175h2v1h-2zM86 176h1v1h-1zM100 176h1v1h-1zM83 177h1v1h-1zM87 177h1v1h-1zM92 177h1v1h-1zM81 178h1v1h-1zM92 178h1v1h-1zM96 178h2v1h-2zM100 178h3v1h-3zM105 178h1v1h-1zM86 179h1v1h-1zM88 179h1v1h-1zM96 179h1v1h-1zM101 179h1v1h-1zM85 180h1v1h-1zM88 180h1v1h-1zM92 180h1v1h-1zM96 180h1v1h-1zM99 180h1v1h-1zM103 180h1v1h-1zM86 181h2v1h-2zM90 181h1v1h-1zM92 181h1v1h-1zM95 181h1v1h-1zM100 181h1v1h-1zM84 182h1v1h-1zM87 182h3v1h-3zM91 182h1v1h-1zM103 182h2v1h-2zM106 182h1v1h-1zM81 183h3v1h-3zM86 183h6v1h-6zM97 183h1v1h-1zM99 183h1v1h-1zM75 184h2v1h-2zM80 184h2v1h-2zM83 184h1v1h-1zM85 184h7v1h-7zM94 184h1v1h-1zM96 184h1v1h-1zM100 184h1v1h-1zM77 185h2v1h-2zM80 185h2v1h-2zM83 185h9v1h-9zM95 185h1v1h-1zM97 185h1v1h-1zM99 185h1v1h-1zM101 185h1v1h-1zM105 185h1v1h-1zM74 186h1v1h-1zM77 186h16v1h-16zM96 186h1v1h-1zM100 186h1v1h-1zM102 186h1v1h-1zM71 187h1v1h-1zM73 187h3v1h-3zM77 187h14v1h-14zM96 187h1v1h-1zM98 187h1v1h-1zM102 187h1v1h-1zM67 188h1v1h-1zM72 188h1v1h-1zM75 188h18v1h-18zM94 188h1v1h-1zM97 188h1v1h-1zM100 188h3v1h-3zM104 188h1v1h-1zM70 189h3v1h-3zM74 189h16v1h-16zM97 189h2v1h-2zM101 189h2v1h-2zM70 190h19v1h-19zM90 190h1v1h-1zM93 190h1v1h-1zM95 190h1v1h-1zM99 190h2v1h-2zM103 190h1v1h-1zM69 191h21v1h-21zM96 191h1v1h-1zM98 191h1v1h-1zM100 191h2v1h-2zM104 191h2v1h-2zM67 192h24v1h-24zM94 192h1v1h-1zM96 192h1v1h-1zM100 192h1v1h-1zM66 193h23v1h-23zM90 193h2v1h-2zM98 193h1v1h-1zM100 193h2v1h-2zM66 194h22v1h-22zM89 194h1v1h-1zM91 194h1v1h-1zM95 194h1v1h-1zM98 194h1v1h-1zM100 194h1v1h-1zM63 195h23v1h-23zM87 195h1v1h-1zM89 195h1v1h-1zM93 195h1v1h-1zM95 195h1v1h-1zM97 195h1v1h-1zM99 195h1v1h-1zM102 195h1v1h-1zM63 196h25v1h-25zM90 196h1v1h-1zM96 196h1v1h-1zM99 196h2v1h-2zM107 196h1v1h-1zM63 197h24v1h-24zM88 197h1v1h-1zM92 197h1v1h-1zM95 197h4v1h-4zM64 198h24v1h-24zM99 198h2v1h-2zM102 198h1v1h-1zM64 199h26v1h-26zM98 199h1v1h-1zM100 199h1v1h-1zM63 200h19v1h-19zM83 200h1v1h-1zM85 200h1v1h-1zM90 200h1v1h-1zM93 200h1v1h-1zM95 200h3v1h-3zM104 200h1v1h-1zM64 201h17v1h-17zM83 201h2v1h-2zM90 201h1v1h-1zM94 201h1v1h-1zM97 201h1v1h-1zM63 202h5v1h-5zM69 202h7v1h-7zM78 202h1v1h-1zM83 202h1v1h-1zM88 202h1v1h-1zM94 202h1v1h-1zM97 202h1v1h-1zM103 202h1v1h-1zM63 203h2v1h-2zM66 203h1v1h-1zM68 203h3v1h-3zM73 203h2v1h-2zM78 203h1v1h-1zM84 203h1v1h-1zM92 203h1v1h-1zM66 204h1v1h-1zM69 204h1v1h-1zM79 204h1v1h-1zM82 204h2v1h-2zM88 204h1v1h-1zM90 204h1v1h-1zM99 204h1v1h-1z" fill="#000"/>
<rect x="62.6" y="151.2" width="60.1" height="53.80000000000001" fill="none" stroke="#000" stroke-width="1.3"/>
<line x1="93.7" y1="151.2" x2="93.7" y2="205" stroke="#000" stroke-width="1.4"/>
<line x1="62.6" y1="181.8" x2="122.7" y2="181.8" stroke="#000" stroke-width="1.4"/>
<path d="M59.60 205.00H62.6 M62.60 205V208.00 M60.60 200.95H62.6 M67.12 205V207.00 M60.60 198.58H62.6 M69.77 205V207.00 M60.60 196.90H62.6 M71.65 205V207.00 M60.60 195.60H62.6 M73.10 205V207.00 M60.60 194.53H62.6 M74.29 205V207.00 M60.60 193.63H62.6 M75.30 205V207.00 M60.60 192.85H62.6 M76.17 205V207.00 M60.60 192.17H62.6 M76.94 205V207.00 M59.60 191.55H62.6 M77.62 205V208.00 M60.60 187.50H62.6 M82.15 205V207.00 M60.60 185.13H62.6 M84.79 205V207.00 M60.60 183.45H62.6 M86.67 205V207.00 M60.60 182.15H62.6 M88.13 205V207.00 M60.60 181.08H62.6 M89.32 205V207.00 M60.60 180.18H62.6 M90.32 205V207.00 M60.60 179.40H62.6 M91.19 205V207.00 M60.60 178.72H62.6 M91.96 205V207.00 M59.60 178.10H62.6 M92.65 205V208.00 M60.60 174.05H62.6 M97.17 205V207.00 M60.60 171.68H62.6 M99.82 205V207.00 M60.60 170.00H62.6 M101.70 205V207.00 M60.60 168.70H62.6 M103.15 205V207.00 M60.60 167.63H62.6 M104.34 205V207.00 M60.60 166.73H62.6 M105.35 205V207.00 M60.60 165.95H62.6 M106.22 205V207.00 M60.60 165.27H62.6 M106.99 205V207.00 M59.60 164.65H62.6 M107.68 205V208.00 M60.60 160.60H62.6 M112.20 205V207.00 M60.60 158.23H62.6 M114.84 205V207.00 M60.60 156.55H62.6 M116.72 205V207.00 M60.60 155.25H62.6 M118.18 205V207.00 M60.60 154.18H62.6 M119.37 205V207.00 M60.60 153.28H62.6 M120.37 205V207.00 M60.60 152.50H62.6 M121.24 205V207.00 M60.60 151.82H62.6 M122.01 205V207.00 M59.60 151.2H62.6 M122.7 205V208" stroke="#000" stroke-width="0.8" fill="none"/>
<g transform="translate(57.40,216.4) scale(0.7,1)"><text x="0" y="0" font-family='"Liberation Sans", Arial, sans-serif' font-weight='bold' font-size="8.6" fill="#000" stroke="#000" stroke-width="0.35">10</text><text x="11.2" y="-4.3" font-family='"Liberation Sans", Arial, sans-serif' font-weight='bold' font-size="7.2" fill="#000" stroke="#000" stroke-width="0.25">0</text></g>
<g transform="translate(72.30,216.4) scale(0.7,1)"><text x="0" y="0" font-family='"Liberation Sans", Arial, sans-serif' font-weight='bold' font-size="8.6" fill="#000" stroke="#000" stroke-width="0.35">10</text><text x="11.2" y="-4.3" font-family='"Liberation Sans", Arial, sans-serif' font-weight='bold' font-size="7.2" fill="#000" stroke="#000" stroke-width="0.25">1</text></g>
<g transform="translate(87.20,216.4) scale(0.7,1)"><text x="0" y="0" font-family='"Liberation Sans", Arial, sans-serif' font-weight='bold' font-size="8.6" fill="#000" stroke="#000" stroke-width="0.35">10</text><text x="11.2" y="-4.3" font-family='"Liberation Sans", Arial, sans-serif' font-weight='bold' font-size="7.2" fill="#000" stroke="#000" stroke-width="0.25">2</text></g>
<g transform="translate(102.10,216.4) scale(0.7,1)"><text x="0" y="0" font-family='"Liberation Sans", Arial, sans-serif' font-weight='bold' font-size="8.6" fill="#000" stroke="#000" stroke-width="0.35">10</text><text x="11.2" y="-4.3" font-family='"Liberation Sans", Arial, sans-serif' font-weight='bold' font-size="7.2" fill="#000" stroke="#000" stroke-width="0.25">3</text></g>
<g transform="translate(117.00,216.4) scale(0.7,1)"><text x="0" y="0" font-family='"Liberation Sans", Arial, sans-serif' font-weight='bold' font-size="8.6" fill="#000" stroke="#000" stroke-width="0.35">10</text><text x="11.2" y="-4.3" font-family='"Liberation Sans", Arial, sans-serif' font-weight='bold' font-size="7.2" fill="#000" stroke="#000" stroke-width="0.25">4</text></g>
<g transform="translate(57.1,210.3) rotate(-90) scale(0.8,1)"><text x="0" y="0" font-family='"Liberation Sans", Arial, sans-serif' font-weight='bold' font-size="8.5" fill="#000">10</text><text x="10.4" y="-3.4" font-family='"Liberation Sans", Arial, sans-serif' font-weight='bold' font-size="8.2" fill="#000" stroke="#000" stroke-width="0.5">0</text></g>
<g transform="translate(57.1,157.79999999999998) rotate(-90) scale(0.8,1)"><text x="0" y="0" font-family='"Liberation Sans", Arial, sans-serif' font-weight='bold' font-size="8.5" fill="#000">10</text><text x="11.6" y="-3.4" font-family='"Liberation Sans", Arial, sans-serif' font-weight='bold' font-size="8.2" fill="#000" stroke="#000" stroke-width="0.5">4</text></g>
<rect x="66.40" y="152.40" width="15.86" height="7.4" fill="#fff"/>
<text transform="translate(67.2,158.7) scale(0.8,1)" font-family='"DejaVu Sans Mono", "Liberation Mono", monospace' font-weight='bold' font-size='7.4' stroke-width='0.45' fill="#000" stroke="#000">1.0%</text>
<text transform="translate(114.4,154.2) rotate(90) scale(0.8,1)" font-family='"DejaVu Sans Mono", "Liberation Mono", monospace' font-weight='bold' font-size='7.4' stroke-width='0.45' fill="#000" stroke="#000">4.82%</text>
<text transform="translate(114.4,184.8) rotate(90) scale(0.8,1)" font-family='"DejaVu Sans Mono", "Liberation Mono", monospace' font-weight='bold' font-size='7.4' stroke-width='0.45' fill="#000" stroke="#000">4.48%</text>
<text transform="translate(71,195) scale(0.8,1)" font-family='"DejaVu Sans Mono", "Liberation Mono", monospace' font-weight='bold' font-size='7.4' stroke-width='0.45' fill="#fff" stroke="#fff">89.6%</text>
<path d="M227 154h1v1h-1zM213 155h1v1h-1zM220 155h1v1h-1zM223 155h2v1h-2zM217 156h1v1h-1zM219 157h5v1h-5zM218 158h2v1h-2zM221 158h1v1h-1zM223 158h3v1h-3zM217 159h1v1h-1zM219 159h1v1h-1zM221 159h1v1h-1zM224 159h1v1h-1zM211 160h1v1h-1zM213 160h1v1h-1zM218 160h1v1h-1zM220 160h2v1h-2zM211 161h1v1h-1zM220 161h2v1h-2zM223 161h2v1h-2zM226 161h1v1h-1zM209 162h1v1h-1zM213 162h1v1h-1zM218 162h7v1h-7zM217 163h1v1h-1zM219 163h5v1h-5zM213 164h1v1h-1zM216 164h2v1h-2zM221 164h3v1h-3zM225 164h1v1h-1zM214 165h2v1h-2zM217 165h2v1h-2zM220 165h2v1h-2zM223 165h1v1h-1zM226 165h1v1h-1zM220 166h1v1h-1zM222 166h1v1h-1zM206 167h1v1h-1zM215 167h1v1h-1zM217 167h1v1h-1zM219 167h2v1h-2zM222 167h1v1h-1zM211 168h1v1h-1zM214 168h1v1h-1zM217 168h1v1h-1zM219 168h1v1h-1zM221 168h1v1h-1zM225 168h1v1h-1zM211 169h1v1h-1zM214 169h1v1h-1zM216 169h3v1h-3zM194 170h1v1h-1zM214 170h2v1h-2zM218 170h1v1h-1zM220 170h1v1h-1zM222 170h1v1h-1zM202 171h1v1h-1zM208 171h1v1h-1zM213 171h1v1h-1zM216 171h1v1h-1zM219 171h2v1h-2zM222 171h1v1h-1zM213 172h2v1h-2zM216 172h3v1h-3zM221 172h2v1h-2zM198 173h1v1h-1zM211 173h1v1h-1zM214 173h1v1h-1zM216 173h1v1h-1zM224 173h1v1h-1zM209 174h1v1h-1zM211 174h1v1h-1zM213 174h3v1h-3zM202 175h1v1h-1zM211 175h1v1h-1zM213 175h1v1h-1zM215 175h1v1h-1zM217 175h2v1h-2zM209 176h7v1h-7zM217 176h1v1h-1zM213 177h2v1h-2zM217 177h1v1h-1zM206 178h1v1h-1zM208 178h6v1h-6zM216 178h1v1h-1zM218 178h1v1h-1zM206 179h1v1h-1zM210 179h5v1h-5zM217 179h1v1h-1zM208 180h8v1h-8zM205 181h1v1h-1zM207 181h7v1h-7zM216 181h2v1h-2zM223 181h1v1h-1zM205 182h9v1h-9zM200 183h3v1h-3zM204 183h9v1h-9zM199 184h3v1h-3zM203 184h1v1h-1zM205 184h8v1h-8zM217 184h1v1h-1zM197 185h1v1h-1zM200 185h14v1h-14zM196 186h1v1h-1zM199 186h12v1h-12zM217 186h1v1h-1zM220 186h1v1h-1zM222 186h1v1h-1zM194 187h2v1h-2zM197 187h14v1h-14zM212 187h2v1h-2zM217 187h1v1h-1zM186 188h1v1h-1zM192 188h1v1h-1zM195 188h16v1h-16zM188 189h1v1h-1zM190 189h1v1h-1zM193 189h1v1h-1zM195 189h15v1h-15zM211 189h1v1h-1zM214 189h1v1h-1zM219 189h1v1h-1zM190 190h2v1h-2zM193 190h16v1h-16zM214 190h1v1h-1zM188 191h22v1h-22zM212 191h1v1h-1zM215 191h3v1h-3zM220 191h1v1h-1zM188 192h22v1h-22zM211 192h1v1h-1zM221 192h1v1h-1zM225 192h1v1h-1zM185 193h1v1h-1zM187 193h1v1h-1zM189 193h18v1h-18zM216 193h1v1h-1zM219 193h1v1h-1zM184 194h22v1h-22zM208 194h1v1h-1zM220 194h2v1h-2zM184 195h2v1h-2zM187 195h20v1h-20zM218 195h1v1h-1zM183 196h2v1h-2zM186 196h18v1h-18zM214 196h1v1h-1zM218 196h1v1h-1zM182 197h20v1h-20zM204 197h1v1h-1zM215 197h1v1h-1zM217 197h1v1h-1zM225 197h1v1h-1zM182 198h19v1h-19zM203 198h2v1h-2zM214 198h1v1h-1zM223 198h1v1h-1zM181 199h20v1h-20zM202 199h1v1h-1zM204 199h1v1h-1zM216 199h1v1h-1zM181 200h20v1h-20zM181 201h6v1h-6zM188 201h11v1h-11zM202 201h1v1h-1zM220 201h1v1h-1zM181 202h10v1h-10zM192 202h6v1h-6zM181 203h6v1h-6zM189 203h4v1h-4zM194 203h2v1h-2zM197 203h1v1h-1zM228 203h1v1h-1zM184 204h3v1h-3zM189 204h1v1h-1zM191 204h2v1h-2z" fill="#000"/>
<rect x="181" y="151.2" width="60" height="54.0" fill="none" stroke="#000" stroke-width="1.3"/>
<line x1="212.6" y1="151.2" x2="212.6" y2="205.2" stroke="#000" stroke-width="1.4"/>
<line x1="181" y1="184.3" x2="241" y2="184.3" stroke="#000" stroke-width="1.4"/>
<path d="M178.00 205.20H181 M181.00 205.2V208.20 M179.00 201.14H181 M185.52 205.2V207.20 M179.00 198.76H181 M188.16 205.2V207.20 M179.00 197.07H181 M190.03 205.2V207.20 M179.00 195.76H181 M191.48 205.2V207.20 M179.00 194.69H181 M192.67 205.2V207.20 M179.00 193.79H181 M193.68 205.2V207.20 M179.00 193.01H181 M194.55 205.2V207.20 M179.00 192.32H181 M195.31 205.2V207.20 M178.00 191.70H181 M196.00 205.2V208.20 M179.00 187.64H181 M200.52 205.2V207.20 M179.00 185.26H181 M203.16 205.2V207.20 M179.00 183.57H181 M205.03 205.2V207.20 M179.00 182.26H181 M206.48 205.2V207.20 M179.00 181.19H181 M207.67 205.2V207.20 M179.00 180.29H181 M208.68 205.2V207.20 M179.00 179.51H181 M209.55 205.2V207.20 M179.00 178.82H181 M210.31 205.2V207.20 M178.00 178.20H181 M211.00 205.2V208.20 M179.00 174.14H181 M215.52 205.2V207.20 M179.00 171.76H181 M218.16 205.2V207.20 M179.00 170.07H181 M220.03 205.2V207.20 M179.00 168.76H181 M221.48 205.2V207.20 M179.00 167.69H181 M222.67 205.2V207.20 M179.00 166.79H181 M223.68 205.2V207.20 M179.00 166.01H181 M224.55 205.2V207.20 M179.00 165.32H181 M225.31 205.2V207.20 M178.00 164.70H181 M226.00 205.2V208.20 M179.00 160.64H181 M230.52 205.2V207.20 M179.00 158.26H181 M233.16 205.2V207.20 M179.00 156.57H181 M235.03 205.2V207.20 M179.00 155.26H181 M236.48 205.2V207.20 M179.00 154.19H181 M237.67 205.2V207.20 M179.00 153.29H181 M238.68 205.2V207.20 M179.00 152.51H181 M239.55 205.2V207.20 M179.00 151.82H181 M240.31 205.2V207.20 M178.00 151.2H181 M241 205.2V208.2" stroke="#000" stroke-width="0.8" fill="none"/>
<g transform="translate(175.80,216.6) scale(0.7,1)"><text x="0" y="0" font-family='"Liberation Sans", Arial, sans-serif' font-weight='bold' font-size="8.6" fill="#000" stroke="#000" stroke-width="0.35">10</text><text x="11.2" y="-4.3" font-family='"Liberation Sans", Arial, sans-serif' font-weight='bold' font-size="7.2" fill="#000" stroke="#000" stroke-width="0.25">0</text></g>
<g transform="translate(190.70,216.6) scale(0.7,1)"><text x="0" y="0" font-family='"Liberation Sans", Arial, sans-serif' font-weight='bold' font-size="8.6" fill="#000" stroke="#000" stroke-width="0.35">10</text><text x="11.2" y="-4.3" font-family='"Liberation Sans", Arial, sans-serif' font-weight='bold' font-size="7.2" fill="#000" stroke="#000" stroke-width="0.25">1</text></g>
<g transform="translate(205.60,216.6) scale(0.7,1)"><text x="0" y="0" font-family='"Liberation Sans", Arial, sans-serif' font-weight='bold' font-size="8.6" fill="#000" stroke="#000" stroke-width="0.35">10</text><text x="11.2" y="-4.3" font-family='"Liberation Sans", Arial, sans-serif' font-weight='bold' font-size="7.2" fill="#000" stroke="#000" stroke-width="0.25">2</text></g>
<g transform="translate(220.50,216.6) scale(0.7,1)"><text x="0" y="0" font-family='"Liberation Sans", Arial, sans-serif' font-weight='bold' font-size="8.6" fill="#000" stroke="#000" stroke-width="0.35">10</text><text x="11.2" y="-4.3" font-family='"Liberation Sans", Arial, sans-serif' font-weight='bold' font-size="7.2" fill="#000" stroke="#000" stroke-width="0.25">3</text></g>
<g transform="translate(235.40,216.6) scale(0.7,1)"><text x="0" y="0" font-family='"Liberation Sans", Arial, sans-serif' font-weight='bold' font-size="8.6" fill="#000" stroke="#000" stroke-width="0.35">10</text><text x="11.2" y="-4.3" font-family='"Liberation Sans", Arial, sans-serif' font-weight='bold' font-size="7.2" fill="#000" stroke="#000" stroke-width="0.25">4</text></g>
<g transform="translate(175.5,210.5) rotate(-90) scale(0.8,1)"><text x="0" y="0" font-family='"Liberation Sans", Arial, sans-serif' font-weight='bold' font-size="8.5" fill="#000">10</text><text x="10.4" y="-3.4" font-family='"Liberation Sans", Arial, sans-serif' font-weight='bold' font-size="8.2" fill="#000" stroke="#000" stroke-width="0.5">0</text></g>
<g transform="translate(175.5,157.79999999999998) rotate(-90) scale(0.8,1)"><text x="0" y="0" font-family='"Liberation Sans", Arial, sans-serif' font-weight='bold' font-size="8.5" fill="#000">10</text><text x="11.6" y="-3.4" font-family='"Liberation Sans", Arial, sans-serif' font-weight='bold' font-size="8.2" fill="#000" stroke="#000" stroke-width="0.5">4</text></g>
<rect x="184.80" y="152.40" width="19.42" height="7.4" fill="#fff"/>
<text transform="translate(185.6,158.7) scale(0.8,1)" font-family='"DejaVu Sans Mono", "Liberation Mono", monospace' font-weight='bold' font-size='7.4' stroke-width='0.45' fill="#000" stroke="#000">3.88%</text>
<text transform="translate(232.7,154.2) rotate(90) scale(0.8,1)" font-family='"DejaVu Sans Mono", "Liberation Mono", monospace' font-weight='bold' font-size='7.4' stroke-width='0.45' fill="#000" stroke="#000">5.78%</text>
<text transform="translate(232.7,187.3) rotate(90) scale(0.8,1)" font-family='"DejaVu Sans Mono", "Liberation Mono", monospace' font-weight='bold' font-size='7.4' stroke-width='0.45' fill="#000" stroke="#000">2.38%</text>
<text transform="translate(188,198.2) scale(0.8,1)" font-family='"DejaVu Sans Mono", "Liberation Mono", monospace' font-weight='bold' font-size='7.4' stroke-width='0.45' fill="#fff" stroke="#fff">87.9%</text>
<path d="M334 152h2v1h-2zM341 152h1v1h-1zM332 153h1v1h-1zM335 153h2v1h-2zM334 154h1v1h-1zM338 154h1v1h-1zM340 154h1v1h-1zM330 155h1v1h-1zM334 155h2v1h-2zM340 155h1v1h-1zM326 156h1v1h-1zM329 156h1v1h-1zM331 156h1v1h-1zM333 156h1v1h-1zM340 156h1v1h-1zM325 157h3v1h-3zM330 157h1v1h-1zM334 157h2v1h-2zM338 157h1v1h-1zM324 158h1v1h-1zM328 158h9v1h-9zM328 159h1v1h-1zM330 159h2v1h-2zM334 159h1v1h-1zM337 159h1v1h-1zM339 159h1v1h-1zM328 160h1v1h-1zM330 160h1v1h-1zM332 160h1v1h-1zM334 160h2v1h-2zM337 160h1v1h-1zM345 160h1v1h-1zM330 161h1v1h-1zM333 161h2v1h-2zM337 161h1v1h-1zM327 162h1v1h-1zM329 162h1v1h-1zM333 162h1v1h-1zM335 162h1v1h-1zM342 162h1v1h-1zM329 163h4v1h-4zM334 163h1v1h-1zM339 163h2v1h-2zM334 164h1v1h-1zM336 164h1v1h-1zM340 164h1v1h-1zM319 165h1v1h-1zM327 165h1v1h-1zM330 165h6v1h-6zM330 166h1v1h-1zM335 166h1v1h-1zM332 167h4v1h-4zM338 167h1v1h-1zM329 168h1v1h-1zM332 168h2v1h-2zM307 169h1v1h-1zM326 169h1v1h-1zM337 169h1v1h-1zM328 170h2v1h-2zM331 170h2v1h-2zM326 171h1v1h-1zM328 171h1v1h-1zM333 171h1v1h-1zM339 171h1v1h-1zM318 172h1v1h-1zM328 172h1v1h-1zM332 172h1v1h-1zM330 173h1v1h-1zM332 173h2v1h-2zM343 173h1v1h-1zM315 174h1v1h-1zM326 174h1v1h-1zM333 174h1v1h-1zM334 175h2v1h-2zM321 176h1v1h-1zM331 176h1v1h-1zM315 177h1v1h-1zM317 177h2v1h-2zM320 177h1v1h-1zM323 177h1v1h-1zM325 177h1v1h-1zM331 177h1v1h-1zM334 177h1v1h-1zM315 178h2v1h-2zM318 178h1v1h-1zM320 178h2v1h-2zM325 178h2v1h-2zM332 178h1v1h-1zM334 178h1v1h-1zM316 179h1v1h-1zM318 179h1v1h-1zM320 179h2v1h-2zM323 179h4v1h-4zM317 180h1v1h-1zM319 180h2v1h-2zM323 180h3v1h-3zM331 180h1v1h-1zM317 181h1v1h-1zM319 181h1v1h-1zM321 181h6v1h-6zM332 181h1v1h-1zM315 182h1v1h-1zM317 182h9v1h-9zM316 183h10v1h-10zM334 183h1v1h-1zM310 184h1v1h-1zM313 184h1v1h-1zM315 184h10v1h-10zM302 185h1v1h-1zM312 185h1v1h-1zM315 185h10v1h-10zM333 185h1v1h-1zM304 186h2v1h-2zM314 186h11v1h-11zM302 187h1v1h-1zM308 187h16v1h-16zM308 188h15v1h-15zM324 188h2v1h-2zM307 189h15v1h-15zM332 189h1v1h-1zM336 189h1v1h-1zM300 190h1v1h-1zM307 190h16v1h-16zM330 190h1v1h-1zM304 191h18v1h-18zM330 191h1v1h-1zM332 191h1v1h-1zM300 192h1v1h-1zM304 192h17v1h-17zM329 192h1v1h-1zM300 193h1v1h-1zM302 193h18v1h-18zM324 193h1v1h-1zM326 193h1v1h-1zM301 194h18v1h-18zM329 194h1v1h-1zM332 194h1v1h-1zM298 195h21v1h-21zM327 195h1v1h-1zM331 195h1v1h-1zM333 195h1v1h-1zM296 196h1v1h-1zM299 196h20v1h-20zM329 196h1v1h-1zM296 197h23v1h-23zM296 198h20v1h-20zM317 198h1v1h-1zM321 198h1v1h-1zM327 198h1v1h-1zM297 199h20v1h-20zM318 199h1v1h-1zM329 199h1v1h-1zM335 199h2v1h-2zM296 200h21v1h-21zM333 200h2v1h-2zM296 201h20v1h-20zM317 201h1v1h-1zM329 201h1v1h-1zM333 201h1v1h-1zM296 202h21v1h-21zM296 203h4v1h-4zM301 203h2v1h-2zM304 203h1v1h-1zM306 203h2v1h-2zM309 203h6v1h-6zM331 203h1v1h-1zM299 204h2v1h-2zM305 204h1v1h-1zM307 204h1v1h-1zM309 204h1v1h-1zM312 204h1v1h-1zM314 204h1v1h-1z" fill="#000"/>
<rect x="295.1" y="151.2" width="61.099999999999966" height="54.0" fill="none" stroke="#000" stroke-width="1.3"/>
<line x1="325.7" y1="151.2" x2="325.7" y2="205.2" stroke="#000" stroke-width="1.4"/>
<line x1="295.1" y1="184.3" x2="356.2" y2="184.3" stroke="#000" stroke-width="1.4"/>
<path d="M292.10 205.20H295.1 M295.10 205.2V208.20 M293.10 201.14H295.1 M299.70 205.2V207.20 M293.10 198.76H295.1 M302.39 205.2V207.20 M293.10 197.07H295.1 M304.30 205.2V207.20 M293.10 195.76H295.1 M305.78 205.2V207.20 M293.10 194.69H295.1 M306.99 205.2V207.20 M293.10 193.79H295.1 M308.01 205.2V207.20 M293.10 193.01H295.1 M308.89 205.2V207.20 M293.10 192.32H295.1 M309.68 205.2V207.20 M292.10 191.70H295.1 M310.38 205.2V208.20 M293.10 187.64H295.1 M314.97 205.2V207.20 M293.10 185.26H295.1 M317.66 205.2V207.20 M293.10 183.57H295.1 M319.57 205.2V207.20 M293.10 182.26H295.1 M321.05 205.2V207.20 M293.10 181.19H295.1 M322.26 205.2V207.20 M293.10 180.29H295.1 M323.28 205.2V207.20 M293.10 179.51H295.1 M324.17 205.2V207.20 M293.10 178.82H295.1 M324.95 205.2V207.20 M292.10 178.20H295.1 M325.65 205.2V208.20 M293.10 174.14H295.1 M330.25 205.2V207.20 M293.10 171.76H295.1 M332.94 205.2V207.20 M293.10 170.07H295.1 M334.85 205.2V207.20 M293.10 168.76H295.1 M336.33 205.2V207.20 M293.10 167.69H295.1 M337.54 205.2V207.20 M293.10 166.79H295.1 M338.56 205.2V207.20 M293.10 166.01H295.1 M339.44 205.2V207.20 M293.10 165.32H295.1 M340.23 205.2V207.20 M292.10 164.70H295.1 M340.93 205.2V208.20 M293.10 160.64H295.1 M345.52 205.2V207.20 M293.10 158.26H295.1 M348.21 205.2V207.20 M293.10 156.57H295.1 M350.12 205.2V207.20 M293.10 155.26H295.1 M351.60 205.2V207.20 M293.10 154.19H295.1 M352.81 205.2V207.20 M293.10 153.29H295.1 M353.83 205.2V207.20 M293.10 152.51H295.1 M354.72 205.2V207.20 M293.10 151.82H295.1 M355.50 205.2V207.20 M292.10 151.2H295.1 M356.2 205.2V208.2" stroke="#000" stroke-width="0.8" fill="none"/>
<g transform="translate(289.90,216.6) scale(0.7,1)"><text x="0" y="0" font-family='"Liberation Sans", Arial, sans-serif' font-weight='bold' font-size="8.6" fill="#000" stroke="#000" stroke-width="0.35">10</text><text x="11.2" y="-4.3" font-family='"Liberation Sans", Arial, sans-serif' font-weight='bold' font-size="7.2" fill="#000" stroke="#000" stroke-width="0.25">0</text></g>
<g transform="translate(304.80,216.6) scale(0.7,1)"><text x="0" y="0" font-family='"Liberation Sans", Arial, sans-serif' font-weight='bold' font-size="8.6" fill="#000" stroke="#000" stroke-width="0.35">10</text><text x="11.2" y="-4.3" font-family='"Liberation Sans", Arial, sans-serif' font-weight='bold' font-size="7.2" fill="#000" stroke="#000" stroke-width="0.25">1</text></g>
<g transform="translate(319.70,216.6) scale(0.7,1)"><text x="0" y="0" font-family='"Liberation Sans", Arial, sans-serif' font-weight='bold' font-size="8.6" fill="#000" stroke="#000" stroke-width="0.35">10</text><text x="11.2" y="-4.3" font-family='"Liberation Sans", Arial, sans-serif' font-weight='bold' font-size="7.2" fill="#000" stroke="#000" stroke-width="0.25">2</text></g>
<g transform="translate(334.60,216.6) scale(0.7,1)"><text x="0" y="0" font-family='"Liberation Sans", Arial, sans-serif' font-weight='bold' font-size="8.6" fill="#000" stroke="#000" stroke-width="0.35">10</text><text x="11.2" y="-4.3" font-family='"Liberation Sans", Arial, sans-serif' font-weight='bold' font-size="7.2" fill="#000" stroke="#000" stroke-width="0.25">3</text></g>
<g transform="translate(349.50,216.6) scale(0.7,1)"><text x="0" y="0" font-family='"Liberation Sans", Arial, sans-serif' font-weight='bold' font-size="8.6" fill="#000" stroke="#000" stroke-width="0.35">10</text><text x="11.2" y="-4.3" font-family='"Liberation Sans", Arial, sans-serif' font-weight='bold' font-size="7.2" fill="#000" stroke="#000" stroke-width="0.25">4</text></g>
<g transform="translate(289.6,210.5) rotate(-90) scale(0.8,1)"><text x="0" y="0" font-family='"Liberation Sans", Arial, sans-serif' font-weight='bold' font-size="8.5" fill="#000">10</text><text x="10.4" y="-3.4" font-family='"Liberation Sans", Arial, sans-serif' font-weight='bold' font-size="8.2" fill="#000" stroke="#000" stroke-width="0.5">0</text></g>
<g transform="translate(289.6,157.79999999999998) rotate(-90) scale(0.8,1)"><text x="0" y="0" font-family='"Liberation Sans", Arial, sans-serif' font-weight='bold' font-size="8.5" fill="#000">10</text><text x="11.6" y="-3.4" font-family='"Liberation Sans", Arial, sans-serif' font-weight='bold' font-size="8.2" fill="#000" stroke="#000" stroke-width="0.5">4</text></g>
<rect x="298.90" y="152.40" width="19.42" height="7.4" fill="#fff"/>
<text transform="translate(299.70000000000005,158.7) scale(0.8,1)" font-family='"DejaVu Sans Mono", "Liberation Mono", monospace' font-weight='bold' font-size='7.4' stroke-width='0.45' fill="#000" stroke="#000">1.55%</text>
<text transform="translate(347.9,154.2) rotate(90) scale(0.8,1)" font-family='"DejaVu Sans Mono", "Liberation Mono", monospace' font-weight='bold' font-size='7.4' stroke-width='0.45' fill="#000" stroke="#000">4.5%</text>
<text transform="translate(347.9,187.3) rotate(90) scale(0.8,1)" font-family='"DejaVu Sans Mono", "Liberation Mono", monospace' font-weight='bold' font-size='7.4' stroke-width='0.45' fill="#000" stroke="#000">2.48%</text>
<text transform="translate(302.5,200.5) scale(0.8,1)" font-family='"DejaVu Sans Mono", "Liberation Mono", monospace' font-weight='bold' font-size='7.4' stroke-width='0.45' fill="#fff" stroke="#fff">91.5%</text>
<path d="M444 152h1v1h-1zM438 154h1v1h-1zM445 155h1v1h-1zM451 156h1v1h-1zM437 157h1v1h-1zM439 157h1v1h-1zM438 158h1v1h-1zM439 159h3v1h-3zM448 160h1v1h-1zM440 161h1v1h-1zM440 162h2v1h-2zM443 162h1v1h-1zM440 163h1v1h-1zM444 163h1v1h-1zM434 164h1v1h-1zM438 164h2v1h-2zM423 165h1v1h-1zM437 165h2v1h-2zM440 165h1v1h-1zM443 165h1v1h-1zM440 166h1v1h-1zM451 166h1v1h-1zM420 168h1v1h-1zM430 168h2v1h-2zM435 168h2v1h-2zM439 168h1v1h-1zM445 168h1v1h-1zM432 169h1v1h-1zM436 169h2v1h-2zM439 169h2v1h-2zM443 169h1v1h-1zM438 170h1v1h-1zM441 170h2v1h-2zM441 171h2v1h-2zM444 171h1v1h-1zM447 171h1v1h-1zM420 172h1v1h-1zM423 172h1v1h-1zM431 172h1v1h-1zM435 172h1v1h-1zM440 172h1v1h-1zM445 172h1v1h-1zM447 172h1v1h-1zM438 173h1v1h-1zM440 173h1v1h-1zM442 173h1v1h-1zM446 173h1v1h-1zM429 174h1v1h-1zM437 174h1v1h-1zM435 175h1v1h-1zM437 175h2v1h-2zM440 175h1v1h-1zM425 176h1v1h-1zM428 176h2v1h-2zM433 176h2v1h-2zM417 177h1v1h-1zM424 177h1v1h-1zM426 177h1v1h-1zM432 177h2v1h-2zM438 177h1v1h-1zM440 177h1v1h-1zM423 178h1v1h-1zM428 178h3v1h-3zM433 178h2v1h-2zM439 178h1v1h-1zM444 178h1v1h-1zM417 179h2v1h-2zM421 179h2v1h-2zM424 179h1v1h-1zM429 179h1v1h-1zM431 179h3v1h-3zM438 179h2v1h-2zM428 180h1v1h-1zM431 180h3v1h-3zM435 180h1v1h-1zM439 180h1v1h-1zM425 181h1v1h-1zM427 181h2v1h-2zM430 181h3v1h-3zM439 181h1v1h-1zM441 181h1v1h-1zM425 182h1v1h-1zM428 182h6v1h-6zM435 182h1v1h-1zM443 182h1v1h-1zM418 183h1v1h-1zM424 183h10v1h-10zM435 183h1v1h-1zM420 184h1v1h-1zM425 184h8v1h-8zM440 184h1v1h-1zM412 185h2v1h-2zM420 185h1v1h-1zM424 185h9v1h-9zM435 185h1v1h-1zM441 185h1v1h-1zM444 185h1v1h-1zM417 186h1v1h-1zM420 186h2v1h-2zM423 186h10v1h-10zM436 186h1v1h-1zM439 186h1v1h-1zM413 187h1v1h-1zM417 187h14v1h-14zM432 187h1v1h-1zM436 187h1v1h-1zM412 188h1v1h-1zM417 188h1v1h-1zM419 188h11v1h-11zM416 189h13v1h-13zM431 189h1v1h-1zM436 189h1v1h-1zM440 189h1v1h-1zM410 190h1v1h-1zM413 190h18v1h-18zM439 190h1v1h-1zM407 191h1v1h-1zM412 191h1v1h-1zM414 191h16v1h-16zM433 191h1v1h-1zM412 192h17v1h-17zM434 192h1v1h-1zM437 192h1v1h-1zM408 193h2v1h-2zM411 193h15v1h-15zM437 193h1v1h-1zM409 194h18v1h-18zM439 194h1v1h-1zM444 194h1v1h-1zM405 195h1v1h-1zM407 195h19v1h-19zM436 195h1v1h-1zM440 195h1v1h-1zM405 196h21v1h-21zM428 196h1v1h-1zM433 196h1v1h-1zM437 196h1v1h-1zM405 197h19v1h-19zM425 197h1v1h-1zM442 197h2v1h-2zM405 198h17v1h-17zM423 198h1v1h-1zM427 198h1v1h-1zM443 198h1v1h-1zM405 199h18v1h-18zM435 199h1v1h-1zM442 199h1v1h-1zM404 200h18v1h-18zM436 200h1v1h-1zM438 200h1v1h-1zM405 201h15v1h-15zM405 202h15v1h-15zM404 203h4v1h-4zM409 203h6v1h-6zM416 203h2v1h-2zM419 203h1v1h-1zM443 203h1v1h-1zM404 204h1v1h-1zM408 204h1v1h-1zM410 204h1v1h-1z" fill="#000"/>
<rect x="404" y="151.2" width="61" height="54.20000000000002" fill="none" stroke="#000" stroke-width="1.3"/>
<line x1="433.8" y1="151.2" x2="433.8" y2="205.4" stroke="#000" stroke-width="1.4"/>
<line x1="404" y1="185.8" x2="465" y2="185.8" stroke="#000" stroke-width="1.4"/>
<path d="M401.00 205.40H404 M404.00 205.4V208.40 M402.00 201.32H404 M408.59 205.4V207.40 M402.00 198.94H404 M411.28 205.4V207.40 M402.00 197.24H404 M413.18 205.4V207.40 M402.00 195.93H404 M414.66 205.4V207.40 M402.00 194.86H404 M415.87 205.4V207.40 M402.00 193.95H404 M416.89 205.4V207.40 M402.00 193.16H404 M417.77 205.4V207.40 M402.00 192.47H404 M418.55 205.4V207.40 M401.00 191.85H404 M419.25 205.4V208.40 M402.00 187.77H404 M423.84 205.4V207.40 M402.00 185.39H404 M426.53 205.4V207.40 M402.00 183.69H404 M428.43 205.4V207.40 M402.00 182.38H404 M429.91 205.4V207.40 M402.00 181.31H404 M431.12 205.4V207.40 M402.00 180.40H404 M432.14 205.4V207.40 M402.00 179.61H404 M433.02 205.4V207.40 M402.00 178.92H404 M433.80 205.4V207.40 M401.00 178.30H404 M434.50 205.4V208.40 M402.00 174.22H404 M439.09 205.4V207.40 M402.00 171.84H404 M441.78 205.4V207.40 M402.00 170.14H404 M443.68 205.4V207.40 M402.00 168.83H404 M445.16 205.4V207.40 M402.00 167.76H404 M446.37 205.4V207.40 M402.00 166.85H404 M447.39 205.4V207.40 M402.00 166.06H404 M448.27 205.4V207.40 M402.00 165.37H404 M449.05 205.4V207.40 M401.00 164.75H404 M449.75 205.4V208.40 M402.00 160.67H404 M454.34 205.4V207.40 M402.00 158.29H404 M457.03 205.4V207.40 M402.00 156.59H404 M458.93 205.4V207.40 M402.00 155.28H404 M460.41 205.4V207.40 M402.00 154.21H404 M461.62 205.4V207.40 M402.00 153.30H404 M462.64 205.4V207.40 M402.00 152.51H404 M463.52 205.4V207.40 M402.00 151.82H404 M464.30 205.4V207.40 M401.00 151.2H404 M465 205.4V208.4" stroke="#000" stroke-width="0.8" fill="none"/>
<g transform="translate(398.80,216.8) scale(0.7,1)"><text x="0" y="0" font-family='"Liberation Sans", Arial, sans-serif' font-weight='bold' font-size="8.6" fill="#000" stroke="#000" stroke-width="0.35">10</text><text x="11.2" y="-4.3" font-family='"Liberation Sans", Arial, sans-serif' font-weight='bold' font-size="7.2" fill="#000" stroke="#000" stroke-width="0.25">0</text></g>
<g transform="translate(413.70,216.8) scale(0.7,1)"><text x="0" y="0" font-family='"Liberation Sans", Arial, sans-serif' font-weight='bold' font-size="8.6" fill="#000" stroke="#000" stroke-width="0.35">10</text><text x="11.2" y="-4.3" font-family='"Liberation Sans", Arial, sans-serif' font-weight='bold' font-size="7.2" fill="#000" stroke="#000" stroke-width="0.25">1</text></g>
<g transform="translate(428.60,216.8) scale(0.7,1)"><text x="0" y="0" font-family='"Liberation Sans", Arial, sans-serif' font-weight='bold' font-size="8.6" fill="#000" stroke="#000" stroke-width="0.35">10</text><text x="11.2" y="-4.3" font-family='"Liberation Sans", Arial, sans-serif' font-weight='bold' font-size="7.2" fill="#000" stroke="#000" stroke-width="0.25">2</text></g>
<g transform="translate(443.50,216.8) scale(0.7,1)"><text x="0" y="0" font-family='"Liberation Sans", Arial, sans-serif' font-weight='bold' font-size="8.6" fill="#000" stroke="#000" stroke-width="0.35">10</text><text x="11.2" y="-4.3" font-family='"Liberation Sans", Arial, sans-serif' font-weight='bold' font-size="7.2" fill="#000" stroke="#000" stroke-width="0.25">3</text></g>
<g transform="translate(458.40,216.8) scale(0.7,1)"><text x="0" y="0" font-family='"Liberation Sans", Arial, sans-serif' font-weight='bold' font-size="8.6" fill="#000" stroke="#000" stroke-width="0.35">10</text><text x="11.2" y="-4.3" font-family='"Liberation Sans", Arial, sans-serif' font-weight='bold' font-size="7.2" fill="#000" stroke="#000" stroke-width="0.25">4</text></g>
<g transform="translate(398.5,210.70000000000002) rotate(-90) scale(0.8,1)"><text x="0" y="0" font-family='"Liberation Sans", Arial, sans-serif' font-weight='bold' font-size="8.5" fill="#000">10</text><text x="10.4" y="-3.4" font-family='"Liberation Sans", Arial, sans-serif' font-weight='bold' font-size="8.2" fill="#000" stroke="#000" stroke-width="0.5">0</text></g>
<g transform="translate(398.5,157.79999999999998) rotate(-90) scale(0.8,1)"><text x="0" y="0" font-family='"Liberation Sans", Arial, sans-serif' font-weight='bold' font-size="8.5" fill="#000">10</text><text x="11.6" y="-3.4" font-family='"Liberation Sans", Arial, sans-serif' font-weight='bold' font-size="8.2" fill="#000" stroke="#000" stroke-width="0.5">4</text></g>
<rect x="407.80" y="152.40" width="19.42" height="7.4" fill="#fff"/>
<text transform="translate(408.6,158.7) scale(0.8,1)" font-family='"DejaVu Sans Mono", "Liberation Mono", monospace' font-weight='bold' font-size='7.4' stroke-width='0.45' fill="#000" stroke="#000">3.56%</text>
<text transform="translate(456.7,154.2) rotate(90) scale(0.8,1)" font-family='"DejaVu Sans Mono", "Liberation Mono", monospace' font-weight='bold' font-size='7.4' stroke-width='0.45' fill="#000" stroke="#000">2.61%</text>
<text transform="translate(456.7,188.8) rotate(90) scale(0.8,1)" font-family='"DejaVu Sans Mono", "Liberation Mono", monospace' font-weight='bold' font-size='7.4' stroke-width='0.45' fill="#000" stroke="#000">0.8%</text>
<text transform="translate(412.7,197.6) scale(0.8,1)" font-family='"DejaVu Sans Mono", "Liberation Mono", monospace' font-weight='bold' font-size='7.4' stroke-width='0.45' fill="#fff" stroke="#fff">93%</text>
<path d="M90 255h5v1h-5zM97 255h1v1h-1zM99 255h2v1h-2zM89 256h1v1h-1zM92 256h10v1h-10zM91 257h11v1h-11zM91 258h4v1h-4zM96 258h6v1h-6zM90 259h12v1h-12zM91 260h11v1h-11zM103 260h1v1h-1zM88 261h1v1h-1zM90 261h13v1h-13zM89 262h2v1h-2zM92 262h3v1h-3zM96 262h1v1h-1zM98 262h2v1h-2zM103 262h1v1h-1zM89 263h1v1h-1zM92 263h7v1h-7zM100 263h1v1h-1zM89 264h3v1h-3zM94 264h1v1h-1zM97 264h1v1h-1zM100 264h3v1h-3zM93 265h1v1h-1zM96 265h2v1h-2zM100 265h3v1h-3zM90 266h3v1h-3zM94 266h1v1h-1zM96 266h1v1h-1zM99 266h3v1h-3zM88 267h1v1h-1zM90 267h3v1h-3zM96 267h3v1h-3zM100 267h1v1h-1zM75 268h1v1h-1zM91 268h2v1h-2zM95 268h3v1h-3zM68 269h1v1h-1zM81 269h1v1h-1zM90 269h2v1h-2zM93 269h1v1h-1zM97 269h5v1h-5zM90 270h2v1h-2zM95 270h2v1h-2zM98 270h2v1h-2zM101 270h2v1h-2zM76 271h1v1h-1zM90 271h3v1h-3zM94 271h1v1h-1zM96 271h2v1h-2zM99 271h1v1h-1zM101 271h2v1h-2zM90 272h1v1h-1zM92 272h2v1h-2zM95 272h1v1h-1zM97 272h3v1h-3zM72 273h1v1h-1zM84 273h1v1h-1zM89 273h2v1h-2zM92 273h3v1h-3zM97 273h3v1h-3zM101 273h1v1h-1zM73 274h1v1h-1zM78 274h1v1h-1zM90 274h2v1h-2zM93 274h2v1h-2zM98 274h1v1h-1zM75 275h2v1h-2zM82 275h1v1h-1zM86 275h1v1h-1zM88 275h1v1h-1zM90 275h1v1h-1zM92 275h1v1h-1zM95 275h2v1h-2zM100 275h1v1h-1zM67 276h1v1h-1zM69 276h1v1h-1zM79 276h1v1h-1zM87 276h1v1h-1zM90 276h2v1h-2zM93 276h2v1h-2zM97 276h1v1h-1zM99 276h2v1h-2zM91 277h3v1h-3zM95 277h1v1h-1zM98 277h1v1h-1zM100 277h1v1h-1zM78 278h3v1h-3zM89 278h2v1h-2zM93 278h3v1h-3zM97 278h2v1h-2zM100 278h1v1h-1zM81 279h1v1h-1zM84 279h1v1h-1zM90 279h2v1h-2zM93 279h1v1h-1zM96 279h2v1h-2zM100 279h1v1h-1zM69 280h1v1h-1zM79 280h1v1h-1zM85 280h1v1h-1zM91 280h1v1h-1zM95 280h2v1h-2zM99 280h3v1h-3zM74 281h1v1h-1zM78 281h1v1h-1zM90 281h1v1h-1zM92 281h3v1h-3zM68 282h1v1h-1zM71 282h1v1h-1zM79 282h1v1h-1zM83 282h1v1h-1zM93 282h2v1h-2zM96 282h3v1h-3zM85 283h2v1h-2zM89 283h1v1h-1zM92 283h5v1h-5zM98 283h3v1h-3zM73 284h1v1h-1zM78 284h1v1h-1zM86 284h1v1h-1zM88 284h2v1h-2zM91 284h1v1h-1zM94 284h1v1h-1zM97 284h2v1h-2zM100 284h3v1h-3zM73 285h2v1h-2zM78 285h1v1h-1zM80 285h1v1h-1zM82 285h1v1h-1zM89 285h1v1h-1zM91 285h1v1h-1zM93 285h4v1h-4zM98 285h2v1h-2zM101 285h1v1h-1zM71 286h1v1h-1zM74 286h1v1h-1zM79 286h1v1h-1zM81 286h1v1h-1zM83 286h1v1h-1zM85 286h2v1h-2zM89 286h2v1h-2zM93 286h1v1h-1zM95 286h1v1h-1zM97 286h1v1h-1zM99 286h1v1h-1zM66 287h1v1h-1zM68 287h1v1h-1zM70 287h2v1h-2zM73 287h1v1h-1zM75 287h2v1h-2zM79 287h3v1h-3zM83 287h1v1h-1zM86 287h1v1h-1zM88 287h2v1h-2zM91 287h1v1h-1zM93 287h2v1h-2zM70 288h2v1h-2zM73 288h4v1h-4zM78 288h3v1h-3zM82 288h2v1h-2zM88 288h1v1h-1zM90 288h1v1h-1zM92 288h1v1h-1zM96 288h1v1h-1zM66 289h3v1h-3zM73 289h7v1h-7zM82 289h1v1h-1zM84 289h5v1h-5zM90 289h3v1h-3zM102 289h2v1h-2zM66 290h1v1h-1zM68 290h2v1h-2zM73 290h6v1h-6zM80 290h3v1h-3zM84 290h1v1h-1zM86 290h1v1h-1zM88 290h5v1h-5zM94 290h3v1h-3zM98 290h2v1h-2zM101 290h1v1h-1zM64 291h4v1h-4zM69 291h10v1h-10zM80 291h2v1h-2zM83 291h4v1h-4zM88 291h9v1h-9zM98 291h1v1h-1zM102 291h1v1h-1zM105 291h1v1h-1zM64 292h2v1h-2zM67 292h5v1h-5zM74 292h27v1h-27zM65 293h10v1h-10zM76 293h7v1h-7zM84 293h3v1h-3zM88 293h12v1h-12zM104 293h1v1h-1zM65 294h3v1h-3zM69 294h16v1h-16zM87 294h5v1h-5zM93 294h8v1h-8zM104 294h1v1h-1zM64 295h19v1h-19zM84 295h17v1h-17zM64 296h25v1h-25zM90 296h11v1h-11zM64 297h9v1h-9zM74 297h30v1h-30zM64 298h25v1h-25zM90 298h10v1h-10zM101 298h1v1h-1zM104 298h1v1h-1zM64 299h14v1h-14zM79 299h5v1h-5zM85 299h16v1h-16zM102 299h1v1h-1zM105 299h1v1h-1zM64 300h36v1h-36zM101 300h2v1h-2zM64 301h12v1h-12zM77 301h22v1h-22zM100 301h1v1h-1zM64 302h3v1h-3zM68 302h1v1h-1zM70 302h33v1h-33zM64 303h22v1h-22zM87 303h14v1h-14zM103 303h1v1h-1zM64 304h2v1h-2zM67 304h3v1h-3zM71 304h18v1h-18zM90 304h1v1h-1zM93 304h7v1h-7zM101 304h1v1h-1zM64 305h11v1h-11zM77 305h18v1h-18zM96 305h1v1h-1zM99 305h2v1h-2zM103 305h1v1h-1zM65 306h14v1h-14zM80 306h2v1h-2zM83 306h1v1h-1zM85 306h14v1h-14zM101 306h1v1h-1zM65 307h1v1h-1zM67 307h6v1h-6zM74 307h1v1h-1zM76 307h6v1h-6zM83 307h2v1h-2zM86 307h4v1h-4zM94 307h3v1h-3z" fill="#000"/>
<rect x="63.1" y="255" width="61.1" height="53.60000000000002" fill="none" stroke="#000" stroke-width="1.3"/>
<line x1="89.5" y1="255" x2="89.5" y2="308.6" stroke="#000" stroke-width="1.4"/>
<line x1="63.1" y1="287.8" x2="124.2" y2="287.8" stroke="#000" stroke-width="1.4"/>
<path d="M60.10 308.60H63.1 M63.10 308.6V311.60 M61.10 304.57H63.1 M67.70 308.6V310.60 M61.10 302.21H63.1 M70.39 308.6V310.60 M61.10 300.53H63.1 M72.30 308.6V310.60 M61.10 299.23H63.1 M73.78 308.6V310.60 M61.10 298.17H63.1 M74.99 308.6V310.60 M61.10 297.28H63.1 M76.01 308.6V310.60 M61.10 296.50H63.1 M76.89 308.6V310.60 M61.10 295.81H63.1 M77.68 308.6V310.60 M60.10 295.20H63.1 M78.38 308.6V311.60 M61.10 291.17H63.1 M82.97 308.6V310.60 M61.10 288.81H63.1 M85.66 308.6V310.60 M61.10 287.13H63.1 M87.57 308.6V310.60 M61.10 285.83H63.1 M89.05 308.6V310.60 M61.10 284.77H63.1 M90.26 308.6V310.60 M61.10 283.88H63.1 M91.28 308.6V310.60 M61.10 283.10H63.1 M92.17 308.6V310.60 M61.10 282.41H63.1 M92.95 308.6V310.60 M60.10 281.80H63.1 M93.65 308.6V311.60 M61.10 277.77H63.1 M98.25 308.6V310.60 M61.10 275.41H63.1 M100.94 308.6V310.60 M61.10 273.73H63.1 M102.85 308.6V310.60 M61.10 272.43H63.1 M104.33 308.6V310.60 M61.10 271.37H63.1 M105.54 308.6V310.60 M61.10 270.48H63.1 M106.56 308.6V310.60 M61.10 269.70H63.1 M107.44 308.6V310.60 M61.10 269.01H63.1 M108.23 308.6V310.60 M60.10 268.40H63.1 M108.93 308.6V311.60 M61.10 264.37H63.1 M113.52 308.6V310.60 M61.10 262.01H63.1 M116.21 308.6V310.60 M61.10 260.33H63.1 M118.12 308.6V310.60 M61.10 259.03H63.1 M119.60 308.6V310.60 M61.10 257.97H63.1 M120.81 308.6V310.60 M61.10 257.08H63.1 M121.83 308.6V310.60 M61.10 256.30H63.1 M122.72 308.6V310.60 M61.10 255.61H63.1 M123.50 308.6V310.60 M60.10 255H63.1 M124.2 308.6V311.6" stroke="#000" stroke-width="0.8" fill="none"/>
<g transform="translate(57.90,320.0) scale(0.7,1)"><text x="0" y="0" font-family='"Liberation Sans", Arial, sans-serif' font-weight='bold' font-size="8.6" fill="#000" stroke="#000" stroke-width="0.35">10</text><text x="11.2" y="-4.3" font-family='"Liberation Sans", Arial, sans-serif' font-weight='bold' font-size="7.2" fill="#000" stroke="#000" stroke-width="0.25">0</text></g>
<g transform="translate(72.80,320.0) scale(0.7,1)"><text x="0" y="0" font-family='"Liberation Sans", Arial, sans-serif' font-weight='bold' font-size="8.6" fill="#000" stroke="#000" stroke-width="0.35">10</text><text x="11.2" y="-4.3" font-family='"Liberation Sans", Arial, sans-serif' font-weight='bold' font-size="7.2" fill="#000" stroke="#000" stroke-width="0.25">1</text></g>
<g transform="translate(87.70,320.0) scale(0.7,1)"><text x="0" y="0" font-family='"Liberation Sans", Arial, sans-serif' font-weight='bold' font-size="8.6" fill="#000" stroke="#000" stroke-width="0.35">10</text><text x="11.2" y="-4.3" font-family='"Liberation Sans", Arial, sans-serif' font-weight='bold' font-size="7.2" fill="#000" stroke="#000" stroke-width="0.25">2</text></g>
<g transform="translate(102.60,320.0) scale(0.7,1)"><text x="0" y="0" font-family='"Liberation Sans", Arial, sans-serif' font-weight='bold' font-size="8.6" fill="#000" stroke="#000" stroke-width="0.35">10</text><text x="11.2" y="-4.3" font-family='"Liberation Sans", Arial, sans-serif' font-weight='bold' font-size="7.2" fill="#000" stroke="#000" stroke-width="0.25">3</text></g>
<g transform="translate(117.50,320.0) scale(0.7,1)"><text x="0" y="0" font-family='"Liberation Sans", Arial, sans-serif' font-weight='bold' font-size="8.6" fill="#000" stroke="#000" stroke-width="0.35">10</text><text x="11.2" y="-4.3" font-family='"Liberation Sans", Arial, sans-serif' font-weight='bold' font-size="7.2" fill="#000" stroke="#000" stroke-width="0.25">4</text></g>
<g transform="translate(57.6,313.90000000000003) rotate(-90) scale(0.8,1)"><text x="0" y="0" font-family='"Liberation Sans", Arial, sans-serif' font-weight='bold' font-size="8.5" fill="#000">10</text><text x="10.4" y="-3.4" font-family='"Liberation Sans", Arial, sans-serif' font-weight='bold' font-size="8.2" fill="#000" stroke="#000" stroke-width="0.5">0</text></g>
<g transform="translate(57.6,261.6) rotate(-90) scale(0.8,1)"><text x="0" y="0" font-family='"Liberation Sans", Arial, sans-serif' font-weight='bold' font-size="8.5" fill="#000">10</text><text x="11.6" y="-3.4" font-family='"Liberation Sans", Arial, sans-serif' font-weight='bold' font-size="8.2" fill="#000" stroke="#000" stroke-width="0.5">4</text></g>
<rect x="66.90" y="256.20" width="19.42" height="7.4" fill="#fff"/>
<text transform="translate(67.7,262.5) scale(0.8,1)" font-family='"DejaVu Sans Mono", "Liberation Mono", monospace' font-weight='bold' font-size='7.4' stroke-width='0.45' fill="#000" stroke="#000">1.33%</text>
<text transform="translate(115.9,258) rotate(90) scale(0.8,1)" font-family='"DejaVu Sans Mono", "Liberation Mono", monospace' font-weight='bold' font-size='7.4' stroke-width='0.45' fill="#000" stroke="#000">15.4%</text>
<text transform="translate(115.9,290.8) rotate(90) scale(0.8,1)" font-family='"DejaVu Sans Mono", "Liberation Mono", monospace' font-weight='bold' font-size='7.4' stroke-width='0.45' fill="#000" stroke="#000">7.62%</text>
<text transform="translate(69,302) scale(0.8,1)" font-family='"DejaVu Sans Mono", "Liberation Mono", monospace' font-weight='bold' font-size='7.4' stroke-width='0.45' fill="#fff" stroke="#fff">75.6%</text>
<path d="M204 258h1v1h-1zM208 258h1v1h-1zM221 258h1v1h-1zM208 259h1v1h-1zM210 259h2v1h-2zM213 259h1v1h-1zM217 259h3v1h-3zM221 259h1v1h-1zM203 260h2v1h-2zM206 260h4v1h-4zM211 260h1v1h-1zM216 260h5v1h-5zM201 261h1v1h-1zM204 261h19v1h-19zM202 262h2v1h-2zM205 262h18v1h-18zM202 263h1v1h-1zM204 263h18v1h-18zM203 264h12v1h-12zM216 264h4v1h-4zM221 264h1v1h-1zM223 264h1v1h-1zM199 265h1v1h-1zM204 265h12v1h-12zM217 265h4v1h-4zM193 266h1v1h-1zM203 266h3v1h-3zM207 266h13v1h-13zM193 267h1v1h-1zM205 267h4v1h-4zM210 267h9v1h-9zM220 267h1v1h-1zM191 268h1v1h-1zM198 268h1v1h-1zM207 268h3v1h-3zM212 268h1v1h-1zM218 268h1v1h-1zM223 268h1v1h-1zM200 269h1v1h-1zM202 269h1v1h-1zM205 269h1v1h-1zM208 269h1v1h-1zM210 269h2v1h-2zM220 269h1v1h-1zM198 270h1v1h-1zM201 270h1v1h-1zM203 270h3v1h-3zM207 270h1v1h-1zM210 270h1v1h-1zM214 270h2v1h-2zM218 270h3v1h-3zM222 270h1v1h-1zM194 271h1v1h-1zM196 271h1v1h-1zM198 271h1v1h-1zM200 271h1v1h-1zM202 271h2v1h-2zM208 271h2v1h-2zM212 271h2v1h-2zM218 271h1v1h-1zM223 271h1v1h-1zM193 272h1v1h-1zM195 272h2v1h-2zM204 272h2v1h-2zM208 272h4v1h-4zM213 272h1v1h-1zM216 272h1v1h-1zM221 272h1v1h-1zM193 273h1v1h-1zM196 273h1v1h-1zM199 273h1v1h-1zM206 273h5v1h-5zM216 273h2v1h-2zM220 273h1v1h-1zM194 274h1v1h-1zM201 274h2v1h-2zM205 274h1v1h-1zM210 274h2v1h-2zM199 275h1v1h-1zM204 275h3v1h-3zM209 275h1v1h-1zM211 275h1v1h-1zM214 275h3v1h-3zM196 276h1v1h-1zM198 276h3v1h-3zM204 276h1v1h-1zM206 276h1v1h-1zM208 276h1v1h-1zM211 276h2v1h-2zM215 276h2v1h-2zM223 276h1v1h-1zM197 277h2v1h-2zM201 277h1v1h-1zM203 277h1v1h-1zM205 277h1v1h-1zM207 277h2v1h-2zM211 277h2v1h-2zM214 277h2v1h-2zM198 278h2v1h-2zM206 278h3v1h-3zM210 278h2v1h-2zM215 278h1v1h-1zM218 278h1v1h-1zM220 278h1v1h-1zM201 279h1v1h-1zM203 279h1v1h-1zM205 279h1v1h-1zM208 279h7v1h-7zM218 279h1v1h-1zM194 280h1v1h-1zM202 280h2v1h-2zM205 280h1v1h-1zM209 280h1v1h-1zM215 280h1v1h-1zM218 280h1v1h-1zM220 280h1v1h-1zM196 281h1v1h-1zM202 281h2v1h-2zM205 281h1v1h-1zM207 281h2v1h-2zM210 281h3v1h-3zM219 281h1v1h-1zM221 281h1v1h-1zM224 281h1v1h-1zM195 282h1v1h-1zM197 282h1v1h-1zM201 282h1v1h-1zM206 282h1v1h-1zM208 282h3v1h-3zM212 282h2v1h-2zM194 283h1v1h-1zM197 283h1v1h-1zM199 283h1v1h-1zM202 283h3v1h-3zM208 283h2v1h-2zM216 283h1v1h-1zM221 283h1v1h-1zM196 284h1v1h-1zM198 284h1v1h-1zM200 284h1v1h-1zM202 284h1v1h-1zM206 284h2v1h-2zM210 284h1v1h-1zM215 284h2v1h-2zM219 284h1v1h-1zM222 284h1v1h-1zM197 285h2v1h-2zM201 285h1v1h-1zM206 285h2v1h-2zM211 285h2v1h-2zM220 285h1v1h-1zM196 286h2v1h-2zM201 286h1v1h-1zM209 286h1v1h-1zM212 286h1v1h-1zM215 286h3v1h-3zM187 287h1v1h-1zM203 287h1v1h-1zM206 287h1v1h-1zM209 287h1v1h-1zM211 287h1v1h-1zM216 287h3v1h-3zM186 288h1v1h-1zM195 288h1v1h-1zM199 288h2v1h-2zM202 288h2v1h-2zM206 288h1v1h-1zM208 288h2v1h-2zM220 288h1v1h-1zM222 288h2v1h-2zM186 289h4v1h-4zM193 289h1v1h-1zM195 289h2v1h-2zM200 289h1v1h-1zM202 289h5v1h-5zM208 289h3v1h-3zM219 289h1v1h-1zM183 290h1v1h-1zM186 290h1v1h-1zM189 290h1v1h-1zM191 290h6v1h-6zM198 290h1v1h-1zM201 290h3v1h-3zM205 290h1v1h-1zM207 290h2v1h-2zM211 290h2v1h-2zM215 290h2v1h-2zM218 290h1v1h-1zM184 291h1v1h-1zM186 291h13v1h-13zM200 291h9v1h-9zM218 291h1v1h-1zM185 292h30v1h-30zM221 292h1v1h-1zM183 293h20v1h-20zM204 293h10v1h-10zM215 293h2v1h-2zM218 293h1v1h-1zM222 293h1v1h-1zM182 294h2v1h-2zM185 294h27v1h-27zM213 294h1v1h-1zM215 294h1v1h-1zM219 294h2v1h-2zM184 295h29v1h-29zM214 295h1v1h-1zM216 295h1v1h-1zM219 295h1v1h-1zM221 295h1v1h-1zM186 296h29v1h-29zM217 296h5v1h-5zM224 296h1v1h-1zM226 296h2v1h-2zM184 297h1v1h-1zM186 297h29v1h-29zM220 297h4v1h-4zM182 298h1v1h-1zM185 298h32v1h-32zM222 298h1v1h-1zM184 299h1v1h-1zM186 299h5v1h-5zM192 299h24v1h-24zM183 300h33v1h-33zM217 300h1v1h-1zM183 301h1v1h-1zM185 301h33v1h-33zM224 301h1v1h-1zM183 302h1v1h-1zM185 302h29v1h-29zM215 302h1v1h-1zM217 302h1v1h-1zM186 303h28v1h-28zM215 303h2v1h-2zM219 303h1v1h-1zM221 303h1v1h-1zM185 304h14v1h-14zM200 304h16v1h-16zM224 304h1v1h-1zM182 305h1v1h-1zM184 305h3v1h-3zM188 305h23v1h-23zM212 305h4v1h-4zM183 306h11v1h-11zM195 306h1v1h-1zM197 306h2v1h-2zM200 306h1v1h-1zM202 306h1v1h-1zM204 306h2v1h-2zM207 306h2v1h-2zM210 306h6v1h-6zM183 307h1v1h-1zM185 307h1v1h-1zM187 307h3v1h-3zM193 307h1v1h-1zM196 307h1v1h-1zM198 307h1v1h-1zM200 307h4v1h-4zM209 307h1v1h-1zM212 307h1v1h-1zM214 307h1v1h-1zM216 307h1v1h-1zM219 307h1v1h-1z" fill="#000"/>
<rect x="181.3" y="255.2" width="61.19999999999999" height="53.69999999999999" fill="none" stroke="#000" stroke-width="1.3"/>
<line x1="208.8" y1="255.2" x2="208.8" y2="308.9" stroke="#000" stroke-width="1.4"/>
<line x1="181.3" y1="288.3" x2="242.5" y2="288.3" stroke="#000" stroke-width="1.4"/>
<path d="M178.30 308.90H181.3 M181.30 308.9V311.90 M179.30 304.86H181.3 M185.91 308.9V310.90 M179.30 302.49H181.3 M188.60 308.9V310.90 M179.30 300.82H181.3 M190.51 308.9V310.90 M179.30 299.52H181.3 M191.99 308.9V310.90 M179.30 298.45H181.3 M193.21 308.9V310.90 M179.30 297.55H181.3 M194.23 308.9V310.90 M179.30 296.78H181.3 M195.12 308.9V310.90 M179.30 296.09H181.3 M195.90 308.9V310.90 M178.30 295.47H181.3 M196.60 308.9V311.90 M179.30 291.43H181.3 M201.21 308.9V310.90 M179.30 289.07H181.3 M203.90 308.9V310.90 M179.30 287.39H181.3 M205.81 308.9V310.90 M179.30 286.09H181.3 M207.29 308.9V310.90 M179.30 285.03H181.3 M208.51 308.9V310.90 M179.30 284.13H181.3 M209.53 308.9V310.90 M179.30 283.35H181.3 M210.42 308.9V310.90 M179.30 282.66H181.3 M211.20 308.9V310.90 M178.30 282.05H181.3 M211.90 308.9V311.90 M179.30 278.01H181.3 M216.51 308.9V310.90 M179.30 275.64H181.3 M219.20 308.9V310.90 M179.30 273.97H181.3 M221.11 308.9V310.90 M179.30 272.67H181.3 M222.59 308.9V310.90 M179.30 271.60H181.3 M223.81 308.9V310.90 M179.30 270.70H181.3 M224.83 308.9V310.90 M179.30 269.93H181.3 M225.72 308.9V310.90 M179.30 269.24H181.3 M226.50 308.9V310.90 M178.30 268.62H181.3 M227.20 308.9V311.90 M179.30 264.58H181.3 M231.81 308.9V310.90 M179.30 262.22H181.3 M234.50 308.9V310.90 M179.30 260.54H181.3 M236.41 308.9V310.90 M179.30 259.24H181.3 M237.89 308.9V310.90 M179.30 258.18H181.3 M239.11 308.9V310.90 M179.30 257.28H181.3 M240.13 308.9V310.90 M179.30 256.50H181.3 M241.02 308.9V310.90 M179.30 255.81H181.3 M241.80 308.9V310.90 M178.30 255.2H181.3 M242.5 308.9V311.9" stroke="#000" stroke-width="0.8" fill="none"/>
<g transform="translate(176.10,320.29999999999995) scale(0.7,1)"><text x="0" y="0" font-family='"Liberation Sans", Arial, sans-serif' font-weight='bold' font-size="8.6" fill="#000" stroke="#000" stroke-width="0.35">10</text><text x="11.2" y="-4.3" font-family='"Liberation Sans", Arial, sans-serif' font-weight='bold' font-size="7.2" fill="#000" stroke="#000" stroke-width="0.25">0</text></g>
<g transform="translate(191.00,320.29999999999995) scale(0.7,1)"><text x="0" y="0" font-family='"Liberation Sans", Arial, sans-serif' font-weight='bold' font-size="8.6" fill="#000" stroke="#000" stroke-width="0.35">10</text><text x="11.2" y="-4.3" font-family='"Liberation Sans", Arial, sans-serif' font-weight='bold' font-size="7.2" fill="#000" stroke="#000" stroke-width="0.25">1</text></g>
<g transform="translate(205.90,320.29999999999995) scale(0.7,1)"><text x="0" y="0" font-family='"Liberation Sans", Arial, sans-serif' font-weight='bold' font-size="8.6" fill="#000" stroke="#000" stroke-width="0.35">10</text><text x="11.2" y="-4.3" font-family='"Liberation Sans", Arial, sans-serif' font-weight='bold' font-size="7.2" fill="#000" stroke="#000" stroke-width="0.25">2</text></g>
<g transform="translate(220.80,320.29999999999995) scale(0.7,1)"><text x="0" y="0" font-family='"Liberation Sans", Arial, sans-serif' font-weight='bold' font-size="8.6" fill="#000" stroke="#000" stroke-width="0.35">10</text><text x="11.2" y="-4.3" font-family='"Liberation Sans", Arial, sans-serif' font-weight='bold' font-size="7.2" fill="#000" stroke="#000" stroke-width="0.25">3</text></g>
<g transform="translate(235.70,320.29999999999995) scale(0.7,1)"><text x="0" y="0" font-family='"Liberation Sans", Arial, sans-serif' font-weight='bold' font-size="8.6" fill="#000" stroke="#000" stroke-width="0.35">10</text><text x="11.2" y="-4.3" font-family='"Liberation Sans", Arial, sans-serif' font-weight='bold' font-size="7.2" fill="#000" stroke="#000" stroke-width="0.25">4</text></g>
<g transform="translate(175.8,314.2) rotate(-90) scale(0.8,1)"><text x="0" y="0" font-family='"Liberation Sans", Arial, sans-serif' font-weight='bold' font-size="8.5" fill="#000">10</text><text x="10.4" y="-3.4" font-family='"Liberation Sans", Arial, sans-serif' font-weight='bold' font-size="8.2" fill="#000" stroke="#000" stroke-width="0.5">0</text></g>
<g transform="translate(175.8,261.8) rotate(-90) scale(0.8,1)"><text x="0" y="0" font-family='"Liberation Sans", Arial, sans-serif' font-weight='bold' font-size="8.5" fill="#000">10</text><text x="11.6" y="-3.4" font-family='"Liberation Sans", Arial, sans-serif' font-weight='bold' font-size="8.2" fill="#000" stroke="#000" stroke-width="0.5">4</text></g>
<rect x="185.10" y="256.40" width="19.42" height="7.4" fill="#fff"/>
<text transform="translate(185.9,262.7) scale(0.8,1)" font-family='"DejaVu Sans Mono", "Liberation Mono", monospace' font-weight='bold' font-size='7.4' stroke-width='0.45' fill="#000" stroke="#000">2.22%</text>
<text transform="translate(234.2,258.2) rotate(90) scale(0.8,1)" font-family='"DejaVu Sans Mono", "Liberation Mono", monospace' font-weight='bold' font-size='7.4' stroke-width='0.45' fill="#000" stroke="#000">12.9%</text>
<text transform="translate(234.2,291.3) rotate(90) scale(0.8,1)" font-family='"DejaVu Sans Mono", "Liberation Mono", monospace' font-weight='bold' font-size='7.4' stroke-width='0.45' fill="#000" stroke="#000">9.62%</text>
<text transform="translate(187.5,303) scale(0.8,1)" font-family='"DejaVu Sans Mono", "Liberation Mono", monospace' font-weight='bold' font-size='7.4' stroke-width='0.45' fill="#fff" stroke="#fff">75.2%</text>
<path d="M316 258h1v1h-1zM320 258h1v1h-1zM327 258h2v1h-2zM330 258h1v1h-1zM314 259h1v1h-1zM318 259h2v1h-2zM323 259h1v1h-1zM325 259h1v1h-1zM327 259h1v1h-1zM329 259h2v1h-2zM314 260h13v1h-13zM328 260h3v1h-3zM313 261h2v1h-2zM316 261h17v1h-17zM314 262h19v1h-19zM334 262h1v1h-1zM314 263h19v1h-19zM313 264h18v1h-18zM332 264h1v1h-1zM313 265h19v1h-19zM316 266h3v1h-3zM320 266h11v1h-11zM332 266h1v1h-1zM313 267h1v1h-1zM315 267h1v1h-1zM317 267h2v1h-2zM320 267h1v1h-1zM326 267h1v1h-1zM330 267h2v1h-2zM319 268h1v1h-1zM323 268h1v1h-1zM325 268h1v1h-1zM330 268h1v1h-1zM320 269h1v1h-1zM326 269h1v1h-1zM319 270h3v1h-3zM323 270h1v1h-1zM329 270h1v1h-1zM318 271h1v1h-1zM320 271h3v1h-3zM327 271h1v1h-1zM336 271h1v1h-1zM317 272h1v1h-1zM321 272h3v1h-3zM325 272h1v1h-1zM319 273h1v1h-1zM322 273h2v1h-2zM325 273h1v1h-1zM327 273h1v1h-1zM330 273h1v1h-1zM333 273h2v1h-2zM316 274h1v1h-1zM328 274h4v1h-4zM311 275h1v1h-1zM314 275h2v1h-2zM319 275h2v1h-2zM322 275h1v1h-1zM325 275h3v1h-3zM306 276h1v1h-1zM311 276h2v1h-2zM315 276h1v1h-1zM317 276h1v1h-1zM320 276h2v1h-2zM323 276h1v1h-1zM326 276h4v1h-4zM317 277h2v1h-2zM321 277h2v1h-2zM324 277h1v1h-1zM330 277h1v1h-1zM307 278h1v1h-1zM314 278h1v1h-1zM316 278h1v1h-1zM320 278h1v1h-1zM328 278h2v1h-2zM315 279h1v1h-1zM318 279h1v1h-1zM320 279h1v1h-1zM322 279h2v1h-2zM333 279h1v1h-1zM299 280h1v1h-1zM311 280h1v1h-1zM314 280h2v1h-2zM317 280h1v1h-1zM320 280h5v1h-5zM330 280h1v1h-1zM308 281h1v1h-1zM313 281h1v1h-1zM315 281h2v1h-2zM321 281h1v1h-1zM325 281h1v1h-1zM329 281h1v1h-1zM332 281h1v1h-1zM316 282h3v1h-3zM321 282h2v1h-2zM324 282h2v1h-2zM327 282h1v1h-1zM308 283h3v1h-3zM314 283h6v1h-6zM323 283h1v1h-1zM310 284h2v1h-2zM314 284h2v1h-2zM321 284h1v1h-1zM323 284h1v1h-1zM325 284h1v1h-1zM331 284h1v1h-1zM298 285h1v1h-1zM302 285h1v1h-1zM304 285h1v1h-1zM309 285h2v1h-2zM312 285h2v1h-2zM315 285h3v1h-3zM319 285h1v1h-1zM299 286h1v1h-1zM301 286h1v1h-1zM304 286h1v1h-1zM306 286h1v1h-1zM309 286h4v1h-4zM314 286h2v1h-2zM319 286h2v1h-2zM328 286h1v1h-1zM334 286h1v1h-1zM307 287h1v1h-1zM309 287h3v1h-3zM319 287h2v1h-2zM322 287h2v1h-2zM326 287h1v1h-1zM328 287h1v1h-1zM306 288h1v1h-1zM311 288h4v1h-4zM316 288h1v1h-1zM318 288h1v1h-1zM322 288h1v1h-1zM326 288h1v1h-1zM329 288h1v1h-1zM335 288h1v1h-1zM301 289h2v1h-2zM304 289h1v1h-1zM306 289h1v1h-1zM309 289h1v1h-1zM312 289h3v1h-3zM316 289h2v1h-2zM320 289h2v1h-2zM326 289h1v1h-1zM337 289h1v1h-1zM299 290h1v1h-1zM301 290h1v1h-1zM305 290h1v1h-1zM308 290h4v1h-4zM315 290h3v1h-3zM322 290h4v1h-4zM327 290h1v1h-1zM330 290h1v1h-1zM295 291h3v1h-3zM300 291h2v1h-2zM303 291h8v1h-8zM314 291h5v1h-5zM320 291h2v1h-2zM324 291h2v1h-2zM327 291h2v1h-2zM330 291h1v1h-1zM340 291h1v1h-1zM297 292h2v1h-2zM300 292h9v1h-9zM310 292h8v1h-8zM319 292h1v1h-1zM322 292h1v1h-1zM324 292h4v1h-4zM331 292h1v1h-1zM334 292h1v1h-1zM296 293h1v1h-1zM298 293h18v1h-18zM318 293h1v1h-1zM320 293h1v1h-1zM325 293h1v1h-1zM327 293h5v1h-5zM333 293h2v1h-2zM342 293h1v1h-1zM297 294h14v1h-14zM313 294h4v1h-4zM318 294h1v1h-1zM321 294h3v1h-3zM326 294h3v1h-3zM330 294h2v1h-2zM340 294h1v1h-1zM295 295h1v1h-1zM297 295h1v1h-1zM299 295h1v1h-1zM301 295h21v1h-21zM323 295h2v1h-2zM326 295h1v1h-1zM329 295h4v1h-4zM336 295h1v1h-1zM296 296h1v1h-1zM298 296h3v1h-3zM302 296h16v1h-16zM319 296h3v1h-3zM323 296h1v1h-1zM325 296h1v1h-1zM327 296h2v1h-2zM330 296h2v1h-2zM333 296h1v1h-1zM295 297h1v1h-1zM297 297h1v1h-1zM299 297h1v1h-1zM301 297h15v1h-15zM317 297h6v1h-6zM325 297h7v1h-7zM333 297h2v1h-2zM297 298h1v1h-1zM299 298h3v1h-3zM303 298h2v1h-2zM306 298h8v1h-8zM315 298h4v1h-4zM320 298h4v1h-4zM326 298h3v1h-3zM330 298h2v1h-2zM334 298h1v1h-1zM295 299h1v1h-1zM298 299h19v1h-19zM318 299h4v1h-4zM324 299h3v1h-3zM328 299h3v1h-3zM332 299h2v1h-2zM297 300h1v1h-1zM299 300h20v1h-20zM320 300h2v1h-2zM324 300h5v1h-5zM330 300h1v1h-1zM332 300h1v1h-1zM334 300h1v1h-1zM298 301h23v1h-23zM322 301h2v1h-2zM326 301h1v1h-1zM328 301h2v1h-2zM334 301h1v1h-1zM337 301h1v1h-1zM295 302h3v1h-3zM299 302h18v1h-18zM321 302h1v1h-1zM324 302h2v1h-2zM327 302h1v1h-1zM329 302h1v1h-1zM331 302h1v1h-1zM333 302h1v1h-1zM296 303h2v1h-2zM299 303h12v1h-12zM313 303h4v1h-4zM318 303h5v1h-5zM325 303h5v1h-5zM331 303h1v1h-1zM295 304h1v1h-1zM297 304h24v1h-24zM324 304h1v1h-1zM326 304h1v1h-1zM328 304h2v1h-2zM331 304h2v1h-2zM334 304h1v1h-1zM338 304h1v1h-1zM297 305h2v1h-2zM300 305h1v1h-1zM302 305h8v1h-8zM311 305h3v1h-3zM315 305h2v1h-2zM324 305h1v1h-1zM327 305h1v1h-1zM329 305h3v1h-3zM298 306h1v1h-1zM301 306h3v1h-3zM306 306h2v1h-2zM309 306h5v1h-5zM315 306h1v1h-1zM317 306h3v1h-3zM325 306h1v1h-1zM330 306h1v1h-1zM335 306h1v1h-1zM296 307h4v1h-4zM302 307h4v1h-4zM312 307h1v1h-1zM315 307h1v1h-1zM320 307h1v1h-1zM328 307h1v1h-1zM332 307h1v1h-1zM299 308h1v1h-1zM302 308h2v1h-2zM308 308h1v1h-1zM314 308h1v1h-1zM316 308h1v1h-1zM319 308h1v1h-1zM323 308h1v1h-1zM330 308h1v1h-1zM337 308h1v1h-1z" fill="#000"/>
<rect x="295" y="255.2" width="61.19999999999999" height="54.10000000000002" fill="none" stroke="#000" stroke-width="1.3"/>
<line x1="318" y1="255.2" x2="318" y2="309.3" stroke="#000" stroke-width="1.4"/>
<line x1="295" y1="288.3" x2="356.2" y2="288.3" stroke="#000" stroke-width="1.4"/>
<path d="M292.00 309.30H295 M295.00 309.3V312.30 M293.00 305.23H295 M299.61 309.3V311.30 M293.00 302.85H295 M302.30 309.3V311.30 M293.00 301.16H295 M304.21 309.3V311.30 M293.00 299.85H295 M305.69 309.3V311.30 M293.00 298.78H295 M306.91 309.3V311.30 M293.00 297.87H295 M307.93 309.3V311.30 M293.00 297.09H295 M308.82 309.3V311.30 M293.00 296.39H295 M309.60 309.3V311.30 M292.00 295.77H295 M310.30 309.3V312.30 M293.00 291.70H295 M314.91 309.3V311.30 M293.00 289.32H295 M317.60 309.3V311.30 M293.00 287.63H295 M319.51 309.3V311.30 M293.00 286.32H295 M320.99 309.3V311.30 M293.00 285.25H295 M322.21 309.3V311.30 M293.00 284.35H295 M323.23 309.3V311.30 M293.00 283.56H295 M324.12 309.3V311.30 M293.00 282.87H295 M324.90 309.3V311.30 M292.00 282.25H295 M325.60 309.3V312.30 M293.00 278.18H295 M330.21 309.3V311.30 M293.00 275.80H295 M332.90 309.3V311.30 M293.00 274.11H295 M334.81 309.3V311.30 M293.00 272.80H295 M336.29 309.3V311.30 M293.00 271.73H295 M337.51 309.3V311.30 M293.00 270.82H295 M338.53 309.3V311.30 M293.00 270.04H295 M339.42 309.3V311.30 M293.00 269.34H295 M340.20 309.3V311.30 M292.00 268.73H295 M340.90 309.3V312.30 M293.00 264.65H295 M345.51 309.3V311.30 M293.00 262.27H295 M348.20 309.3V311.30 M293.00 260.58H295 M350.11 309.3V311.30 M293.00 259.27H295 M351.59 309.3V311.30 M293.00 258.20H295 M352.81 309.3V311.30 M293.00 257.30H295 M353.83 309.3V311.30 M293.00 256.51H295 M354.72 309.3V311.30 M293.00 255.82H295 M355.50 309.3V311.30 M292.00 255.2H295 M356.2 309.3V312.3" stroke="#000" stroke-width="0.8" fill="none"/>
<g transform="translate(289.80,320.7) scale(0.7,1)"><text x="0" y="0" font-family='"Liberation Sans", Arial, sans-serif' font-weight='bold' font-size="8.6" fill="#000" stroke="#000" stroke-width="0.35">10</text><text x="11.2" y="-4.3" font-family='"Liberation Sans", Arial, sans-serif' font-weight='bold' font-size="7.2" fill="#000" stroke="#000" stroke-width="0.25">0</text></g>
<g transform="translate(304.70,320.7) scale(0.7,1)"><text x="0" y="0" font-family='"Liberation Sans", Arial, sans-serif' font-weight='bold' font-size="8.6" fill="#000" stroke="#000" stroke-width="0.35">10</text><text x="11.2" y="-4.3" font-family='"Liberation Sans", Arial, sans-serif' font-weight='bold' font-size="7.2" fill="#000" stroke="#000" stroke-width="0.25">1</text></g>
<g transform="translate(319.60,320.7) scale(0.7,1)"><text x="0" y="0" font-family='"Liberation Sans", Arial, sans-serif' font-weight='bold' font-size="8.6" fill="#000" stroke="#000" stroke-width="0.35">10</text><text x="11.2" y="-4.3" font-family='"Liberation Sans", Arial, sans-serif' font-weight='bold' font-size="7.2" fill="#000" stroke="#000" stroke-width="0.25">2</text></g>
<g transform="translate(334.50,320.7) scale(0.7,1)"><text x="0" y="0" font-family='"Liberation Sans", Arial, sans-serif' font-weight='bold' font-size="8.6" fill="#000" stroke="#000" stroke-width="0.35">10</text><text x="11.2" y="-4.3" font-family='"Liberation Sans", Arial, sans-serif' font-weight='bold' font-size="7.2" fill="#000" stroke="#000" stroke-width="0.25">3</text></g>
<g transform="translate(349.40,320.7) scale(0.7,1)"><text x="0" y="0" font-family='"Liberation Sans", Arial, sans-serif' font-weight='bold' font-size="8.6" fill="#000" stroke="#000" stroke-width="0.35">10</text><text x="11.2" y="-4.3" font-family='"Liberation Sans", Arial, sans-serif' font-weight='bold' font-size="7.2" fill="#000" stroke="#000" stroke-width="0.25">4</text></g>
<g transform="translate(289.5,314.6) rotate(-90) scale(0.8,1)"><text x="0" y="0" font-family='"Liberation Sans", Arial, sans-serif' font-weight='bold' font-size="8.5" fill="#000">10</text><text x="10.4" y="-3.4" font-family='"Liberation Sans", Arial, sans-serif' font-weight='bold' font-size="8.2" fill="#000" stroke="#000" stroke-width="0.5">0</text></g>
<g transform="translate(289.5,261.8) rotate(-90) scale(0.8,1)"><text x="0" y="0" font-family='"Liberation Sans", Arial, sans-serif' font-weight='bold' font-size="8.5" fill="#000">10</text><text x="11.6" y="-3.4" font-family='"Liberation Sans", Arial, sans-serif' font-weight='bold' font-size="8.2" fill="#000" stroke="#000" stroke-width="0.5">4</text></g>
<rect x="298.80" y="256.40" width="19.42" height="7.4" fill="#fff"/>
<text transform="translate(299.6,262.7) scale(0.8,1)" font-family='"DejaVu Sans Mono", "Liberation Mono", monospace' font-weight='bold' font-size='7.4' stroke-width='0.45' fill="#000" stroke="#000">2.79%</text>
<text transform="translate(347.9,258.2) rotate(90) scale(0.8,1)" font-family='"DejaVu Sans Mono", "Liberation Mono", monospace' font-weight='bold' font-size='7.4' stroke-width='0.45' fill="#000" stroke="#000">19.6%</text>
<text transform="translate(347.9,291.3) rotate(90) scale(0.8,1)" font-family='"DejaVu Sans Mono", "Liberation Mono", monospace' font-weight='bold' font-size='7.4' stroke-width='0.45' fill="#000" stroke="#000">5.45%</text>
<text transform="translate(301,303.5) scale(0.8,1)" font-family='"DejaVu Sans Mono", "Liberation Mono", monospace' font-weight='bold' font-size='7.4' stroke-width='0.45' fill="#fff" stroke="#fff">72%</text>
<path d="M423 258h1v1h-1zM434 258h1v1h-1zM436 258h1v1h-1zM417 259h1v1h-1zM423 259h1v1h-1zM425 259h1v1h-1zM427 259h1v1h-1zM432 259h2v1h-2zM423 260h1v1h-1zM425 260h4v1h-4zM430 260h6v1h-6zM438 260h1v1h-1zM416 261h1v1h-1zM424 261h13v1h-13zM418 262h1v1h-1zM422 262h5v1h-5zM428 262h15v1h-15zM406 263h1v1h-1zM421 263h20v1h-20zM414 264h1v1h-1zM418 264h1v1h-1zM421 264h18v1h-18zM440 264h1v1h-1zM421 265h1v1h-1zM423 265h18v1h-18zM421 266h1v1h-1zM423 266h17v1h-17zM420 267h1v1h-1zM423 267h18v1h-18zM415 268h1v1h-1zM422 268h4v1h-4zM427 268h11v1h-11zM439 268h1v1h-1zM410 269h1v1h-1zM423 269h17v1h-17zM421 270h1v1h-1zM423 270h1v1h-1zM425 270h1v1h-1zM427 270h12v1h-12zM417 271h1v1h-1zM426 271h1v1h-1zM428 271h1v1h-1zM430 271h3v1h-3zM434 271h2v1h-2zM437 271h1v1h-1zM413 272h1v1h-1zM415 272h1v1h-1zM418 272h1v1h-1zM422 272h1v1h-1zM425 272h3v1h-3zM430 272h2v1h-2zM433 272h1v1h-1zM436 272h1v1h-1zM438 272h1v1h-1zM426 273h3v1h-3zM430 273h4v1h-4zM435 273h1v1h-1zM410 274h1v1h-1zM413 274h1v1h-1zM416 274h1v1h-1zM421 274h3v1h-3zM428 274h1v1h-1zM430 274h2v1h-2zM437 274h1v1h-1zM439 274h1v1h-1zM418 275h3v1h-3zM423 275h2v1h-2zM426 275h5v1h-5zM432 275h1v1h-1zM435 275h1v1h-1zM420 276h3v1h-3zM427 276h1v1h-1zM429 276h3v1h-3zM434 276h1v1h-1zM416 277h4v1h-4zM424 277h1v1h-1zM427 277h1v1h-1zM431 277h2v1h-2zM434 277h1v1h-1zM436 277h3v1h-3zM417 278h2v1h-2zM421 278h4v1h-4zM426 278h2v1h-2zM430 278h1v1h-1zM435 278h2v1h-2zM413 279h1v1h-1zM420 279h5v1h-5zM431 279h2v1h-2zM434 279h1v1h-1zM440 279h1v1h-1zM416 280h1v1h-1zM419 280h1v1h-1zM422 280h2v1h-2zM426 280h2v1h-2zM429 280h1v1h-1zM431 280h1v1h-1zM433 280h1v1h-1zM436 280h1v1h-1zM440 280h1v1h-1zM413 281h1v1h-1zM420 281h2v1h-2zM423 281h3v1h-3zM428 281h1v1h-1zM432 281h4v1h-4zM438 281h2v1h-2zM418 282h2v1h-2zM421 282h4v1h-4zM427 282h2v1h-2zM437 282h1v1h-1zM417 283h2v1h-2zM420 283h1v1h-1zM422 283h1v1h-1zM424 283h2v1h-2zM428 283h2v1h-2zM432 283h5v1h-5zM438 283h1v1h-1zM410 284h1v1h-1zM412 284h1v1h-1zM420 284h2v1h-2zM423 284h1v1h-1zM428 284h1v1h-1zM430 284h1v1h-1zM434 284h1v1h-1zM439 284h1v1h-1zM412 285h1v1h-1zM415 285h1v1h-1zM417 285h1v1h-1zM420 285h1v1h-1zM422 285h2v1h-2zM430 285h1v1h-1zM436 285h2v1h-2zM411 286h1v1h-1zM414 286h1v1h-1zM417 286h1v1h-1zM419 286h1v1h-1zM421 286h2v1h-2zM432 286h1v1h-1zM440 286h1v1h-1zM415 287h3v1h-3zM420 287h2v1h-2zM423 287h2v1h-2zM435 287h1v1h-1zM410 288h2v1h-2zM415 288h2v1h-2zM419 288h1v1h-1zM421 288h1v1h-1zM432 288h1v1h-1zM408 289h1v1h-1zM413 289h2v1h-2zM416 289h1v1h-1zM418 289h1v1h-1zM420 289h1v1h-1zM429 289h1v1h-1zM436 289h1v1h-1zM411 290h1v1h-1zM415 290h1v1h-1zM418 290h3v1h-3zM422 290h1v1h-1zM424 290h1v1h-1zM436 290h2v1h-2zM412 291h2v1h-2zM416 291h1v1h-1zM420 291h1v1h-1zM433 291h1v1h-1zM435 291h1v1h-1zM440 291h1v1h-1zM409 292h1v1h-1zM413 292h5v1h-5zM419 292h1v1h-1zM421 292h1v1h-1zM423 292h2v1h-2zM434 292h1v1h-1zM438 292h2v1h-2zM405 293h3v1h-3zM409 293h1v1h-1zM411 293h7v1h-7zM419 293h2v1h-2zM422 293h2v1h-2zM426 293h1v1h-1zM433 293h1v1h-1zM439 293h1v1h-1zM407 294h4v1h-4zM412 294h9v1h-9zM422 294h1v1h-1zM426 294h1v1h-1zM434 294h1v1h-1zM437 294h1v1h-1zM406 295h7v1h-7zM414 295h5v1h-5zM421 295h1v1h-1zM423 295h2v1h-2zM426 295h1v1h-1zM434 295h1v1h-1zM438 295h1v1h-1zM405 296h19v1h-19zM434 296h2v1h-2zM438 296h2v1h-2zM404 297h2v1h-2zM407 297h2v1h-2zM410 297h6v1h-6zM417 297h8v1h-8zM433 297h2v1h-2zM439 297h1v1h-1zM441 297h1v1h-1zM407 298h18v1h-18zM426 298h1v1h-1zM441 298h1v1h-1zM405 299h19v1h-19zM425 299h1v1h-1zM434 299h1v1h-1zM436 299h1v1h-1zM439 299h1v1h-1zM406 300h1v1h-1zM408 300h15v1h-15zM424 300h2v1h-2zM427 300h1v1h-1zM429 300h1v1h-1zM432 300h1v1h-1zM435 300h1v1h-1zM439 300h1v1h-1zM441 300h1v1h-1zM404 301h22v1h-22zM435 301h1v1h-1zM407 302h19v1h-19zM427 302h2v1h-2zM435 302h1v1h-1zM439 302h1v1h-1zM404 303h21v1h-21zM427 303h1v1h-1zM431 303h1v1h-1zM433 303h1v1h-1zM406 304h21v1h-21zM436 304h1v1h-1zM405 305h2v1h-2zM408 305h4v1h-4zM413 305h11v1h-11zM425 305h2v1h-2zM436 305h1v1h-1zM405 306h2v1h-2zM408 306h1v1h-1zM410 306h7v1h-7zM418 306h6v1h-6zM405 307h1v1h-1zM413 307h2v1h-2zM421 307h1v1h-1zM423 307h2v1h-2zM404 308h1v1h-1zM406 308h1v1h-1zM408 308h4v1h-4zM413 308h1v1h-1zM415 308h2v1h-2z" fill="#000"/>
<rect x="403.6" y="255.3" width="60.799999999999955" height="54.0" fill="none" stroke="#000" stroke-width="1.3"/>
<line x1="430.6" y1="255.3" x2="430.6" y2="309.3" stroke="#000" stroke-width="1.4"/>
<line x1="403.6" y1="289.1" x2="464.4" y2="289.1" stroke="#000" stroke-width="1.4"/>
<path d="M400.60 309.30H403.6 M403.60 309.3V312.30 M401.60 305.24H403.6 M408.18 309.3V311.30 M401.60 302.86H403.6 M410.85 309.3V311.30 M401.60 301.17H403.6 M412.75 309.3V311.30 M401.60 299.86H403.6 M414.22 309.3V311.30 M401.60 298.79H403.6 M415.43 309.3V311.30 M401.60 297.89H403.6 M416.45 309.3V311.30 M401.60 297.11H403.6 M417.33 309.3V311.30 M401.60 296.42H403.6 M418.10 309.3V311.30 M400.60 295.80H403.6 M418.80 309.3V312.30 M401.60 291.74H403.6 M423.38 309.3V311.30 M401.60 289.36H403.6 M426.05 309.3V311.30 M401.60 287.67H403.6 M427.95 309.3V311.30 M401.60 286.36H403.6 M429.42 309.3V311.30 M401.60 285.29H403.6 M430.63 309.3V311.30 M401.60 284.39H403.6 M431.65 309.3V311.30 M401.60 283.61H403.6 M432.53 309.3V311.30 M401.60 282.92H403.6 M433.30 309.3V311.30 M400.60 282.30H403.6 M434.00 309.3V312.30 M401.60 278.24H403.6 M438.58 309.3V311.30 M401.60 275.86H403.6 M441.25 309.3V311.30 M401.60 274.17H403.6 M443.15 309.3V311.30 M401.60 272.86H403.6 M444.62 309.3V311.30 M401.60 271.79H403.6 M445.83 309.3V311.30 M401.60 270.89H403.6 M446.85 309.3V311.30 M401.60 270.11H403.6 M447.73 309.3V311.30 M401.60 269.42H403.6 M448.50 309.3V311.30 M400.60 268.80H403.6 M449.20 309.3V312.30 M401.60 264.74H403.6 M453.78 309.3V311.30 M401.60 262.36H403.6 M456.45 309.3V311.30 M401.60 260.67H403.6 M458.35 309.3V311.30 M401.60 259.36H403.6 M459.82 309.3V311.30 M401.60 258.29H403.6 M461.03 309.3V311.30 M401.60 257.39H403.6 M462.05 309.3V311.30 M401.60 256.61H403.6 M462.93 309.3V311.30 M401.60 255.92H403.6 M463.70 309.3V311.30 M400.60 255.3H403.6 M464.4 309.3V312.3" stroke="#000" stroke-width="0.8" fill="none"/>
<g transform="translate(398.40,320.7) scale(0.7,1)"><text x="0" y="0" font-family='"Liberation Sans", Arial, sans-serif' font-weight='bold' font-size="8.6" fill="#000" stroke="#000" stroke-width="0.35">10</text><text x="11.2" y="-4.3" font-family='"Liberation Sans", Arial, sans-serif' font-weight='bold' font-size="7.2" fill="#000" stroke="#000" stroke-width="0.25">0</text></g>
<g transform="translate(413.30,320.7) scale(0.7,1)"><text x="0" y="0" font-family='"Liberation Sans", Arial, sans-serif' font-weight='bold' font-size="8.6" fill="#000" stroke="#000" stroke-width="0.35">10</text><text x="11.2" y="-4.3" font-family='"Liberation Sans", Arial, sans-serif' font-weight='bold' font-size="7.2" fill="#000" stroke="#000" stroke-width="0.25">1</text></g>
<g transform="translate(428.20,320.7) scale(0.7,1)"><text x="0" y="0" font-family='"Liberation Sans", Arial, sans-serif' font-weight='bold' font-size="8.6" fill="#000" stroke="#000" stroke-width="0.35">10</text><text x="11.2" y="-4.3" font-family='"Liberation Sans", Arial, sans-serif' font-weight='bold' font-size="7.2" fill="#000" stroke="#000" stroke-width="0.25">2</text></g>
<g transform="translate(443.10,320.7) scale(0.7,1)"><text x="0" y="0" font-family='"Liberation Sans", Arial, sans-serif' font-weight='bold' font-size="8.6" fill="#000" stroke="#000" stroke-width="0.35">10</text><text x="11.2" y="-4.3" font-family='"Liberation Sans", Arial, sans-serif' font-weight='bold' font-size="7.2" fill="#000" stroke="#000" stroke-width="0.25">3</text></g>
<g transform="translate(458.00,320.7) scale(0.7,1)"><text x="0" y="0" font-family='"Liberation Sans", Arial, sans-serif' font-weight='bold' font-size="8.6" fill="#000" stroke="#000" stroke-width="0.35">10</text><text x="11.2" y="-4.3" font-family='"Liberation Sans", Arial, sans-serif' font-weight='bold' font-size="7.2" fill="#000" stroke="#000" stroke-width="0.25">4</text></g>
<g transform="translate(398.1,314.6) rotate(-90) scale(0.8,1)"><text x="0" y="0" font-family='"Liberation Sans", Arial, sans-serif' font-weight='bold' font-size="8.5" fill="#000">10</text><text x="10.4" y="-3.4" font-family='"Liberation Sans", Arial, sans-serif' font-weight='bold' font-size="8.2" fill="#000" stroke="#000" stroke-width="0.5">0</text></g>
<g transform="translate(398.1,261.90000000000003) rotate(-90) scale(0.8,1)"><text x="0" y="0" font-family='"Liberation Sans", Arial, sans-serif' font-weight='bold' font-size="8.5" fill="#000">10</text><text x="11.6" y="-3.4" font-family='"Liberation Sans", Arial, sans-serif' font-weight='bold' font-size="8.2" fill="#000" stroke="#000" stroke-width="0.5">4</text></g>
<rect x="407.40" y="256.50" width="19.42" height="7.4" fill="#fff"/>
<text transform="translate(408.20000000000005,262.8) scale(0.8,1)" font-family='"DejaVu Sans Mono", "Liberation Mono", monospace' font-weight='bold' font-size='7.4' stroke-width='0.45' fill="#000" stroke="#000">6.82%</text>
<text transform="translate(456.09999999999997,258.3) rotate(90) scale(0.8,1)" font-family='"DejaVu Sans Mono", "Liberation Mono", monospace' font-weight='bold' font-size='7.4' stroke-width='0.45' fill="#000" stroke="#000">18.3%</text>
<text transform="translate(456.09999999999997,292.1) rotate(90) scale(0.8,1)" font-family='"DejaVu Sans Mono", "Liberation Mono", monospace' font-weight='bold' font-size='7.4' stroke-width='0.45' fill="#000" stroke="#000">5.45%</text>
<text transform="translate(410,297) scale(0.8,1)" font-family='"DejaVu Sans Mono", "Liberation Mono", monospace' font-weight='bold' font-size='7.4' stroke-width='0.45' fill="#fff" stroke="#fff">69.4%</text>
<rect x="383" y="176.2" width="4" height="1.7" fill="#000"/>
<ellipse cx="385.3" cy="181" rx="1.8" ry="1.7" fill="none" stroke="#000" stroke-width="1.2"/>
<rect x="54.8" y="266" width="1.4" height="2.6" fill="#000"/>
<rect x="56.8" y="270.5" width="1.6" height="1.9" fill="#000"/>
</svg>
</body></html>
